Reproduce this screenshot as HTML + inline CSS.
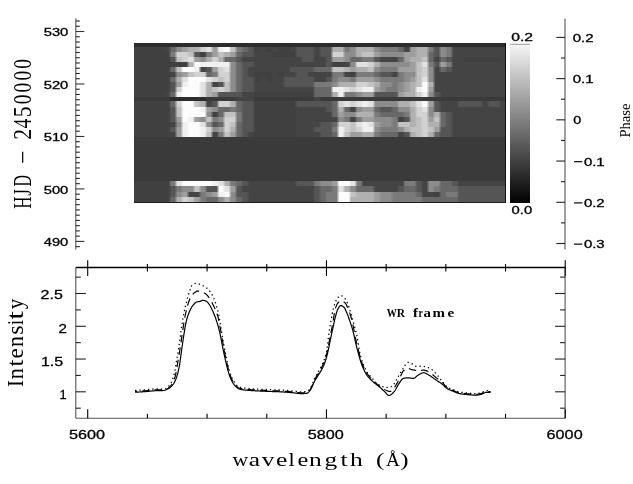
<!DOCTYPE html>
<html><head><meta charset="utf-8"><style>
html,body{margin:0;padding:0;background:#fff;}
body{width:633px;height:484px;position:relative;overflow:hidden;}
.hm{position:absolute;left:134.00px;top:0;width:371.70px;height:484px;filter:blur(0.4px);}
.hr{position:absolute;left:0;width:100%;}
svg{position:absolute;left:0;top:0;will-change:transform;}
</style></head><body>
<div class="hm">
<div class="hr" style="top:43.00px;height:4.00px;background:linear-gradient(90deg,#2c2c2c 1.5px,#2c2c2c 4.5px,#2c2c2c 7.5px,#2c2c2c 10.5px,#2c2c2c 13.5px,#2c2c2c 16.5px,#2c2c2c 19.5px,#2c2c2c 22.5px,#2c2c2c 25.5px,#2c2c2c 28.5px,#2c2c2c 31.5px,#2c2c2c 34.5px,#2c2c2c 37.5px,#2c2c2c 40.5px,#2c2c2c 43.5px,#2c2c2c 46.5px,#2c2c2c 49.5px,#2c2c2c 52.5px,#2c2c2c 55.5px,#2c2c2c 58.5px,#2c2c2c 61.5px,#2c2c2c 64.5px,#2c2c2c 67.5px,#2c2c2c 70.5px,#2c2c2c 73.5px,#2c2c2c 76.5px,#2c2c2c 79.5px,#2c2c2c 82.5px,#2c2c2c 85.5px,#2c2c2c 88.5px,#2c2c2c 91.5px,#2c2c2c 94.5px,#2c2c2c 97.5px,#2c2c2c 100.5px,#2c2c2c 103.5px,#2c2c2c 106.5px,#2c2c2c 109.5px,#2c2c2c 112.5px,#2c2c2c 115.5px,#2c2c2c 118.5px,#2c2c2c 121.5px,#2c2c2c 124.5px,#2c2c2c 127.5px,#2c2c2c 130.5px,#2c2c2c 133.5px,#2c2c2c 136.5px,#2c2c2c 139.5px,#2c2c2c 142.5px,#2c2c2c 145.5px,#2c2c2c 148.5px,#2c2c2c 151.5px,#2c2c2c 154.5px,#2c2c2c 157.5px,#2c2c2c 160.5px,#2c2c2c 163.5px,#2c2c2c 166.5px,#2c2c2c 169.5px,#2c2c2c 172.5px,#2c2c2c 175.5px,#2c2c2c 178.5px,#2c2c2c 181.5px,#2c2c2c 184.5px,#2c2c2c 187.5px,#2c2c2c 190.5px,#2c2c2c 193.5px,#2c2c2c 196.5px,#2c2c2c 199.5px,#2c2c2c 202.5px,#2c2c2c 205.5px,#2c2c2c 208.5px,#2c2c2c 211.5px,#2c2c2c 214.5px,#2c2c2c 217.5px,#2c2c2c 220.5px,#2c2c2c 223.5px,#2c2c2c 226.5px,#2c2c2c 229.5px,#2c2c2c 232.5px,#2c2c2c 235.5px,#2c2c2c 238.5px,#2c2c2c 241.5px,#2c2c2c 244.5px,#2c2c2c 247.5px,#2c2c2c 250.5px,#2c2c2c 253.5px,#2c2c2c 256.5px,#2c2c2c 259.5px,#2c2c2c 262.5px,#2c2c2c 265.5px,#2c2c2c 268.5px,#2c2c2c 271.5px,#2c2c2c 274.5px,#2c2c2c 277.5px,#2c2c2c 280.5px,#2c2c2c 283.5px,#2c2c2c 286.5px,#2c2c2c 289.5px,#2c2c2c 292.5px,#2c2c2c 295.5px,#2c2c2c 298.5px,#2c2c2c 301.5px,#2c2c2c 304.5px,#2c2c2c 307.5px,#2c2c2c 310.5px,#2c2c2c 313.5px,#2c2c2c 316.5px,#2c2c2c 319.5px,#2c2c2c 322.5px,#2c2c2c 325.5px,#2c2c2c 328.5px,#2c2c2c 331.5px,#2c2c2c 334.5px,#2c2c2c 337.5px,#2c2c2c 340.5px,#2c2c2c 343.5px,#2c2c2c 346.5px,#2c2c2c 349.5px,#2c2c2c 352.5px,#2c2c2c 355.5px,#2c2c2c 358.5px,#2c2c2c 361.5px,#2c2c2c 364.5px,#2c2c2c 367.5px,#2c2c2c 370.5px)"></div>
<div class="hr" style="top:47.00px;height:5.00px;background:linear-gradient(90deg,#404040 1.5px,#404040 4.5px,#404040 7.5px,#404040 10.5px,#404040 13.5px,#404040 16.5px,#404040 19.5px,#404040 22.5px,#404040 25.5px,#404040 28.5px,#444444 31.5px,#444444 34.5px,#686868 37.5px,#686868 40.5px,#8c8c8c 43.5px,#8c8c8c 46.5px,#9e9e9e 49.5px,#9e9e9e 52.5px,#b0b0b0 55.5px,#b0b0b0 58.5px,#b0b0b0 61.5px,#b0b0b0 64.5px,#d2d2d2 67.5px,#d2d2d2 70.5px,#e2e2e2 73.5px,#e2e2e2 76.5px,#9e9e9e 79.5px,#9e9e9e 82.5px,#f0f0f0 85.5px,#f0f0f0 88.5px,#fcfcfc 91.5px,#fcfcfc 94.5px,#c2c2c2 97.5px,#c2c2c2 100.5px,#7a7a7a 103.5px,#7a7a7a 106.5px,#686868 109.5px,#686868 112.5px,#555555 115.5px,#555555 118.5px,#404040 121.5px,#404040 124.5px,#444444 127.5px,#444444 130.5px,#404040 133.5px,#404040 136.5px,#444444 139.5px,#444444 142.5px,#404040 145.5px,#404040 148.5px,#404040 151.5px,#404040 154.5px,#444444 157.5px,#444444 160.5px,#555555 163.5px,#555555 166.5px,#555555 169.5px,#555555 172.5px,#555555 175.5px,#555555 178.5px,#444444 181.5px,#444444 184.5px,#555555 187.5px,#555555 190.5px,#555555 193.5px,#555555 196.5px,#b0b0b0 199.5px,#b0b0b0 202.5px,#b0b0b0 205.5px,#b0b0b0 208.5px,#7a7a7a 211.5px,#7a7a7a 214.5px,#8c8c8c 217.5px,#8c8c8c 220.5px,#b0b0b0 223.5px,#b0b0b0 226.5px,#b0b0b0 229.5px,#b0b0b0 232.5px,#b0b0b0 235.5px,#b0b0b0 238.5px,#8c8c8c 241.5px,#8c8c8c 244.5px,#7a7a7a 247.5px,#7a7a7a 250.5px,#7a7a7a 253.5px,#7a7a7a 256.5px,#7a7a7a 259.5px,#7a7a7a 262.5px,#686868 265.5px,#686868 268.5px,#444444 271.5px,#444444 274.5px,#9e9e9e 277.5px,#9e9e9e 280.5px,#b0b0b0 283.5px,#b0b0b0 286.5px,#b0b0b0 289.5px,#b0b0b0 292.5px,#7a7a7a 295.5px,#7a7a7a 298.5px,#555555 301.5px,#555555 304.5px,#8c8c8c 307.5px,#8c8c8c 310.5px,#7a7a7a 313.5px,#7a7a7a 316.5px,#444444 319.5px,#444444 322.5px,#444444 325.5px,#444444 328.5px,#444444 331.5px,#444444 334.5px,#444444 337.5px,#444444 340.5px,#444444 343.5px,#444444 346.5px,#444444 349.5px,#444444 352.5px,#444444 355.5px,#444444 358.5px,#444444 361.5px,#444444 364.5px,#444444 367.5px,#444444 370.5px)"></div>
<div class="hr" style="top:52.00px;height:5.00px;background:linear-gradient(90deg,#404040 1.5px,#404040 4.5px,#404040 7.5px,#404040 10.5px,#404040 13.5px,#404040 16.5px,#404040 19.5px,#404040 22.5px,#404040 25.5px,#404040 28.5px,#404040 31.5px,#404040 34.5px,#7a7a7a 37.5px,#7a7a7a 40.5px,#d2d2d2 43.5px,#d2d2d2 46.5px,#d2d2d2 49.5px,#d2d2d2 52.5px,#c2c2c2 55.5px,#c2c2c2 58.5px,#555555 61.5px,#555555 64.5px,#404040 67.5px,#404040 70.5px,#7a7a7a 73.5px,#7a7a7a 76.5px,#9e9e9e 79.5px,#9e9e9e 82.5px,#c2c2c2 85.5px,#c2c2c2 88.5px,#b0b0b0 91.5px,#b0b0b0 94.5px,#9e9e9e 97.5px,#9e9e9e 100.5px,#686868 103.5px,#686868 106.5px,#555555 109.5px,#555555 112.5px,#555555 115.5px,#555555 118.5px,#444444 121.5px,#444444 124.5px,#444444 127.5px,#444444 130.5px,#444444 133.5px,#444444 136.5px,#404040 139.5px,#404040 142.5px,#404040 145.5px,#404040 148.5px,#404040 151.5px,#404040 154.5px,#404040 157.5px,#404040 160.5px,#555555 163.5px,#555555 166.5px,#555555 169.5px,#555555 172.5px,#555555 175.5px,#555555 178.5px,#444444 181.5px,#444444 184.5px,#555555 187.5px,#555555 190.5px,#555555 193.5px,#555555 196.5px,#d2d2d2 199.5px,#d2d2d2 202.5px,#d2d2d2 205.5px,#d2d2d2 208.5px,#8c8c8c 211.5px,#8c8c8c 214.5px,#8c8c8c 217.5px,#8c8c8c 220.5px,#b0b0b0 223.5px,#b0b0b0 226.5px,#c2c2c2 229.5px,#c2c2c2 232.5px,#c2c2c2 235.5px,#c2c2c2 238.5px,#9e9e9e 241.5px,#9e9e9e 244.5px,#8c8c8c 247.5px,#8c8c8c 250.5px,#8c8c8c 253.5px,#8c8c8c 256.5px,#8c8c8c 259.5px,#8c8c8c 262.5px,#8c8c8c 265.5px,#8c8c8c 268.5px,#9e9e9e 271.5px,#9e9e9e 274.5px,#9e9e9e 277.5px,#9e9e9e 280.5px,#b0b0b0 283.5px,#b0b0b0 286.5px,#b0b0b0 289.5px,#b0b0b0 292.5px,#686868 295.5px,#686868 298.5px,#555555 301.5px,#555555 304.5px,#8c8c8c 307.5px,#8c8c8c 310.5px,#7a7a7a 313.5px,#7a7a7a 316.5px,#444444 319.5px,#444444 322.5px,#444444 325.5px,#444444 328.5px,#444444 331.5px,#444444 334.5px,#444444 337.5px,#444444 340.5px,#444444 343.5px,#444444 346.5px,#444444 349.5px,#444444 352.5px,#444444 355.5px,#444444 358.5px,#444444 361.5px,#444444 364.5px,#444444 367.5px,#444444 370.5px)"></div>
<div class="hr" style="top:57.00px;height:5.00px;background:linear-gradient(90deg,#404040 1.5px,#404040 4.5px,#404040 7.5px,#404040 10.5px,#404040 13.5px,#404040 16.5px,#404040 19.5px,#404040 22.5px,#404040 25.5px,#404040 28.5px,#404040 31.5px,#404040 34.5px,#555555 37.5px,#555555 40.5px,#c2c2c2 43.5px,#c2c2c2 46.5px,#d2d2d2 49.5px,#d2d2d2 52.5px,#e2e2e2 55.5px,#e2e2e2 58.5px,#9e9e9e 61.5px,#9e9e9e 64.5px,#8c8c8c 67.5px,#8c8c8c 70.5px,#b0b0b0 73.5px,#b0b0b0 76.5px,#d2d2d2 79.5px,#d2d2d2 82.5px,#b0b0b0 85.5px,#b0b0b0 88.5px,#686868 91.5px,#686868 94.5px,#686868 97.5px,#686868 100.5px,#555555 103.5px,#555555 106.5px,#444444 109.5px,#444444 112.5px,#444444 115.5px,#444444 118.5px,#444444 121.5px,#444444 124.5px,#444444 127.5px,#444444 130.5px,#444444 133.5px,#444444 136.5px,#444444 139.5px,#444444 142.5px,#444444 145.5px,#444444 148.5px,#444444 151.5px,#444444 154.5px,#444444 157.5px,#444444 160.5px,#444444 163.5px,#444444 166.5px,#555555 169.5px,#555555 172.5px,#555555 175.5px,#555555 178.5px,#444444 181.5px,#444444 184.5px,#444444 187.5px,#444444 190.5px,#555555 193.5px,#555555 196.5px,#9e9e9e 199.5px,#9e9e9e 202.5px,#9e9e9e 205.5px,#9e9e9e 208.5px,#8c8c8c 211.5px,#8c8c8c 214.5px,#686868 217.5px,#686868 220.5px,#686868 223.5px,#686868 226.5px,#7a7a7a 229.5px,#7a7a7a 232.5px,#7a7a7a 235.5px,#7a7a7a 238.5px,#555555 241.5px,#555555 244.5px,#444444 247.5px,#444444 250.5px,#444444 253.5px,#444444 256.5px,#444444 259.5px,#444444 262.5px,#686868 265.5px,#686868 268.5px,#9e9e9e 271.5px,#9e9e9e 274.5px,#b0b0b0 277.5px,#b0b0b0 280.5px,#b0b0b0 283.5px,#b0b0b0 286.5px,#c2c2c2 289.5px,#c2c2c2 292.5px,#686868 295.5px,#686868 298.5px,#444444 301.5px,#444444 304.5px,#686868 307.5px,#686868 310.5px,#555555 313.5px,#555555 316.5px,#444444 319.5px,#444444 322.5px,#444444 325.5px,#444444 328.5px,#404040 331.5px,#404040 334.5px,#404040 337.5px,#404040 340.5px,#404040 343.5px,#404040 346.5px,#404040 349.5px,#404040 352.5px,#404040 355.5px,#404040 358.5px,#404040 361.5px,#404040 364.5px,#444444 367.5px,#444444 370.5px)"></div>
<div class="hr" style="top:62.00px;height:5.00px;background:linear-gradient(90deg,#404040 1.5px,#404040 4.5px,#404040 7.5px,#404040 10.5px,#404040 13.5px,#404040 16.5px,#404040 19.5px,#404040 22.5px,#404040 25.5px,#404040 28.5px,#404040 31.5px,#404040 34.5px,#404040 37.5px,#404040 40.5px,#404040 43.5px,#404040 46.5px,#404040 49.5px,#404040 52.5px,#b0b0b0 55.5px,#b0b0b0 58.5px,#fcfcfc 61.5px,#fcfcfc 64.5px,#f0f0f0 67.5px,#f0f0f0 70.5px,#f0f0f0 73.5px,#f0f0f0 76.5px,#f0f0f0 79.5px,#f0f0f0 82.5px,#f0f0f0 85.5px,#f0f0f0 88.5px,#f0f0f0 91.5px,#f0f0f0 94.5px,#8c8c8c 97.5px,#8c8c8c 100.5px,#686868 103.5px,#686868 106.5px,#555555 109.5px,#555555 112.5px,#555555 115.5px,#555555 118.5px,#444444 121.5px,#444444 124.5px,#444444 127.5px,#444444 130.5px,#444444 133.5px,#444444 136.5px,#444444 139.5px,#444444 142.5px,#444444 145.5px,#444444 148.5px,#444444 151.5px,#444444 154.5px,#444444 157.5px,#444444 160.5px,#444444 163.5px,#444444 166.5px,#444444 169.5px,#444444 172.5px,#444444 175.5px,#444444 178.5px,#444444 181.5px,#444444 184.5px,#444444 187.5px,#444444 190.5px,#555555 193.5px,#555555 196.5px,#404040 199.5px,#404040 202.5px,#404040 205.5px,#404040 208.5px,#444444 211.5px,#444444 214.5px,#8c8c8c 217.5px,#8c8c8c 220.5px,#e2e2e2 223.5px,#e2e2e2 226.5px,#e2e2e2 229.5px,#e2e2e2 232.5px,#d2d2d2 235.5px,#d2d2d2 238.5px,#b0b0b0 241.5px,#b0b0b0 244.5px,#8c8c8c 247.5px,#8c8c8c 250.5px,#8c8c8c 253.5px,#8c8c8c 256.5px,#8c8c8c 259.5px,#8c8c8c 262.5px,#8c8c8c 265.5px,#8c8c8c 268.5px,#8c8c8c 271.5px,#8c8c8c 274.5px,#9e9e9e 277.5px,#9e9e9e 280.5px,#c2c2c2 283.5px,#c2c2c2 286.5px,#e2e2e2 289.5px,#e2e2e2 292.5px,#7a7a7a 295.5px,#7a7a7a 298.5px,#555555 301.5px,#555555 304.5px,#9e9e9e 307.5px,#9e9e9e 310.5px,#7a7a7a 313.5px,#7a7a7a 316.5px,#444444 319.5px,#444444 322.5px,#444444 325.5px,#444444 328.5px,#444444 331.5px,#444444 334.5px,#444444 337.5px,#444444 340.5px,#444444 343.5px,#444444 346.5px,#444444 349.5px,#444444 352.5px,#444444 355.5px,#444444 358.5px,#444444 361.5px,#444444 364.5px,#444444 367.5px,#444444 370.5px)"></div>
<div class="hr" style="top:67.00px;height:5.00px;background:linear-gradient(90deg,#404040 1.5px,#404040 4.5px,#404040 7.5px,#404040 10.5px,#404040 13.5px,#404040 16.5px,#404040 19.5px,#404040 22.5px,#404040 25.5px,#404040 28.5px,#404040 31.5px,#404040 34.5px,#686868 37.5px,#686868 40.5px,#c2c2c2 43.5px,#c2c2c2 46.5px,#fcfcfc 49.5px,#fcfcfc 52.5px,#fcfcfc 55.5px,#fcfcfc 58.5px,#f0f0f0 61.5px,#f0f0f0 64.5px,#444444 67.5px,#444444 70.5px,#555555 73.5px,#555555 76.5px,#9e9e9e 79.5px,#9e9e9e 82.5px,#d2d2d2 85.5px,#d2d2d2 88.5px,#e2e2e2 91.5px,#e2e2e2 94.5px,#8c8c8c 97.5px,#8c8c8c 100.5px,#686868 103.5px,#686868 106.5px,#555555 109.5px,#555555 112.5px,#444444 115.5px,#444444 118.5px,#444444 121.5px,#444444 124.5px,#444444 127.5px,#444444 130.5px,#444444 133.5px,#444444 136.5px,#444444 139.5px,#444444 142.5px,#444444 145.5px,#444444 148.5px,#444444 151.5px,#444444 154.5px,#555555 157.5px,#555555 160.5px,#555555 163.5px,#555555 166.5px,#555555 169.5px,#555555 172.5px,#555555 175.5px,#555555 178.5px,#686868 181.5px,#686868 184.5px,#686868 187.5px,#686868 190.5px,#686868 193.5px,#686868 196.5px,#c2c2c2 199.5px,#c2c2c2 202.5px,#c2c2c2 205.5px,#c2c2c2 208.5px,#b0b0b0 211.5px,#b0b0b0 214.5px,#9e9e9e 217.5px,#9e9e9e 220.5px,#b0b0b0 223.5px,#b0b0b0 226.5px,#b0b0b0 229.5px,#b0b0b0 232.5px,#c2c2c2 235.5px,#c2c2c2 238.5px,#8c8c8c 241.5px,#8c8c8c 244.5px,#7a7a7a 247.5px,#7a7a7a 250.5px,#7a7a7a 253.5px,#7a7a7a 256.5px,#7a7a7a 259.5px,#7a7a7a 262.5px,#9e9e9e 265.5px,#9e9e9e 268.5px,#9e9e9e 271.5px,#9e9e9e 274.5px,#9e9e9e 277.5px,#9e9e9e 280.5px,#c2c2c2 283.5px,#c2c2c2 286.5px,#d2d2d2 289.5px,#d2d2d2 292.5px,#8c8c8c 295.5px,#8c8c8c 298.5px,#444444 301.5px,#444444 304.5px,#686868 307.5px,#686868 310.5px,#555555 313.5px,#555555 316.5px,#444444 319.5px,#444444 322.5px,#444444 325.5px,#444444 328.5px,#444444 331.5px,#444444 334.5px,#444444 337.5px,#444444 340.5px,#444444 343.5px,#444444 346.5px,#444444 349.5px,#444444 352.5px,#444444 355.5px,#444444 358.5px,#444444 361.5px,#444444 364.5px,#444444 367.5px,#444444 370.5px)"></div>
<div class="hr" style="top:72.00px;height:5.00px;background:linear-gradient(90deg,#404040 1.5px,#404040 4.5px,#404040 7.5px,#404040 10.5px,#404040 13.5px,#404040 16.5px,#404040 19.5px,#404040 22.5px,#404040 25.5px,#404040 28.5px,#404040 31.5px,#404040 34.5px,#444444 37.5px,#444444 40.5px,#8c8c8c 43.5px,#8c8c8c 46.5px,#9e9e9e 49.5px,#9e9e9e 52.5px,#c2c2c2 55.5px,#c2c2c2 58.5px,#d2d2d2 61.5px,#d2d2d2 64.5px,#d2d2d2 67.5px,#d2d2d2 70.5px,#686868 73.5px,#686868 76.5px,#7a7a7a 79.5px,#7a7a7a 82.5px,#d2d2d2 85.5px,#d2d2d2 88.5px,#d2d2d2 91.5px,#d2d2d2 94.5px,#8c8c8c 97.5px,#8c8c8c 100.5px,#686868 103.5px,#686868 106.5px,#555555 109.5px,#555555 112.5px,#444444 115.5px,#444444 118.5px,#404040 121.5px,#404040 124.5px,#404040 127.5px,#404040 130.5px,#404040 133.5px,#404040 136.5px,#444444 139.5px,#444444 142.5px,#404040 145.5px,#404040 148.5px,#444444 151.5px,#444444 154.5px,#444444 157.5px,#444444 160.5px,#555555 163.5px,#555555 166.5px,#555555 169.5px,#555555 172.5px,#444444 175.5px,#444444 178.5px,#444444 181.5px,#444444 184.5px,#444444 187.5px,#444444 190.5px,#444444 193.5px,#444444 196.5px,#7a7a7a 199.5px,#7a7a7a 202.5px,#7a7a7a 205.5px,#7a7a7a 208.5px,#444444 211.5px,#444444 214.5px,#404040 217.5px,#404040 220.5px,#7a7a7a 223.5px,#7a7a7a 226.5px,#7a7a7a 229.5px,#7a7a7a 232.5px,#7a7a7a 235.5px,#7a7a7a 238.5px,#686868 241.5px,#686868 244.5px,#555555 247.5px,#555555 250.5px,#555555 253.5px,#555555 256.5px,#444444 259.5px,#444444 262.5px,#7a7a7a 265.5px,#7a7a7a 268.5px,#8c8c8c 271.5px,#8c8c8c 274.5px,#8c8c8c 277.5px,#8c8c8c 280.5px,#c2c2c2 283.5px,#c2c2c2 286.5px,#d2d2d2 289.5px,#d2d2d2 292.5px,#8c8c8c 295.5px,#8c8c8c 298.5px,#444444 301.5px,#444444 304.5px,#444444 307.5px,#444444 310.5px,#444444 313.5px,#444444 316.5px,#444444 319.5px,#444444 322.5px,#444444 325.5px,#444444 328.5px,#444444 331.5px,#444444 334.5px,#444444 337.5px,#444444 340.5px,#444444 343.5px,#444444 346.5px,#444444 349.5px,#444444 352.5px,#444444 355.5px,#444444 358.5px,#444444 361.5px,#444444 364.5px,#444444 367.5px,#444444 370.5px)"></div>
<div class="hr" style="top:77.00px;height:4.50px;background:linear-gradient(90deg,#404040 1.5px,#404040 4.5px,#404040 7.5px,#404040 10.5px,#404040 13.5px,#404040 16.5px,#404040 19.5px,#404040 22.5px,#404040 25.5px,#404040 28.5px,#404040 31.5px,#404040 34.5px,#686868 37.5px,#686868 40.5px,#b0b0b0 43.5px,#b0b0b0 46.5px,#e2e2e2 49.5px,#e2e2e2 52.5px,#fcfcfc 55.5px,#fcfcfc 58.5px,#fcfcfc 61.5px,#fcfcfc 64.5px,#fcfcfc 67.5px,#fcfcfc 70.5px,#e2e2e2 73.5px,#e2e2e2 76.5px,#d2d2d2 79.5px,#d2d2d2 82.5px,#c2c2c2 85.5px,#c2c2c2 88.5px,#d2d2d2 91.5px,#d2d2d2 94.5px,#8c8c8c 97.5px,#8c8c8c 100.5px,#686868 103.5px,#686868 106.5px,#555555 109.5px,#555555 112.5px,#555555 115.5px,#555555 118.5px,#404040 121.5px,#404040 124.5px,#444444 127.5px,#444444 130.5px,#404040 133.5px,#404040 136.5px,#444444 139.5px,#444444 142.5px,#444444 145.5px,#444444 148.5px,#555555 151.5px,#555555 154.5px,#555555 157.5px,#555555 160.5px,#555555 163.5px,#555555 166.5px,#555555 169.5px,#555555 172.5px,#555555 175.5px,#555555 178.5px,#444444 181.5px,#444444 184.5px,#444444 187.5px,#444444 190.5px,#555555 193.5px,#555555 196.5px,#7a7a7a 199.5px,#7a7a7a 202.5px,#8c8c8c 205.5px,#8c8c8c 208.5px,#8c8c8c 211.5px,#8c8c8c 214.5px,#7a7a7a 217.5px,#7a7a7a 220.5px,#9e9e9e 223.5px,#9e9e9e 226.5px,#9e9e9e 229.5px,#9e9e9e 232.5px,#9e9e9e 235.5px,#9e9e9e 238.5px,#8c8c8c 241.5px,#8c8c8c 244.5px,#7a7a7a 247.5px,#7a7a7a 250.5px,#7a7a7a 253.5px,#7a7a7a 256.5px,#7a7a7a 259.5px,#7a7a7a 262.5px,#7a7a7a 265.5px,#7a7a7a 268.5px,#8c8c8c 271.5px,#8c8c8c 274.5px,#9e9e9e 277.5px,#9e9e9e 280.5px,#c2c2c2 283.5px,#c2c2c2 286.5px,#e2e2e2 289.5px,#e2e2e2 292.5px,#8c8c8c 295.5px,#8c8c8c 298.5px,#444444 301.5px,#444444 304.5px,#444444 307.5px,#444444 310.5px,#444444 313.5px,#444444 316.5px,#444444 319.5px,#444444 322.5px,#444444 325.5px,#444444 328.5px,#444444 331.5px,#444444 334.5px,#444444 337.5px,#444444 340.5px,#444444 343.5px,#444444 346.5px,#444444 349.5px,#444444 352.5px,#444444 355.5px,#444444 358.5px,#444444 361.5px,#444444 364.5px,#444444 367.5px,#444444 370.5px)"></div>
<div class="hr" style="top:81.50px;height:5.00px;background:linear-gradient(90deg,#404040 1.5px,#404040 4.5px,#404040 7.5px,#404040 10.5px,#404040 13.5px,#404040 16.5px,#404040 19.5px,#404040 22.5px,#404040 25.5px,#404040 28.5px,#404040 31.5px,#404040 34.5px,#555555 37.5px,#555555 40.5px,#9e9e9e 43.5px,#9e9e9e 46.5px,#f0f0f0 49.5px,#f0f0f0 52.5px,#fcfcfc 55.5px,#fcfcfc 58.5px,#fcfcfc 61.5px,#fcfcfc 64.5px,#e2e2e2 67.5px,#e2e2e2 70.5px,#b0b0b0 73.5px,#b0b0b0 76.5px,#444444 79.5px,#444444 82.5px,#555555 85.5px,#555555 88.5px,#c2c2c2 91.5px,#c2c2c2 94.5px,#8c8c8c 97.5px,#8c8c8c 100.5px,#686868 103.5px,#686868 106.5px,#555555 109.5px,#555555 112.5px,#555555 115.5px,#555555 118.5px,#444444 121.5px,#444444 124.5px,#444444 127.5px,#444444 130.5px,#444444 133.5px,#444444 136.5px,#444444 139.5px,#444444 142.5px,#444444 145.5px,#444444 148.5px,#555555 151.5px,#555555 154.5px,#555555 157.5px,#555555 160.5px,#555555 163.5px,#555555 166.5px,#555555 169.5px,#555555 172.5px,#555555 175.5px,#555555 178.5px,#7a7a7a 181.5px,#7a7a7a 184.5px,#7a7a7a 187.5px,#7a7a7a 190.5px,#7a7a7a 193.5px,#7a7a7a 196.5px,#8c8c8c 199.5px,#8c8c8c 202.5px,#b0b0b0 205.5px,#b0b0b0 208.5px,#b0b0b0 211.5px,#b0b0b0 214.5px,#b0b0b0 217.5px,#b0b0b0 220.5px,#d2d2d2 223.5px,#d2d2d2 226.5px,#d2d2d2 229.5px,#d2d2d2 232.5px,#c2c2c2 235.5px,#c2c2c2 238.5px,#b0b0b0 241.5px,#b0b0b0 244.5px,#8c8c8c 247.5px,#8c8c8c 250.5px,#8c8c8c 253.5px,#8c8c8c 256.5px,#7a7a7a 259.5px,#7a7a7a 262.5px,#8c8c8c 265.5px,#8c8c8c 268.5px,#9e9e9e 271.5px,#9e9e9e 274.5px,#b0b0b0 277.5px,#b0b0b0 280.5px,#c2c2c2 283.5px,#c2c2c2 286.5px,#fcfcfc 289.5px,#fcfcfc 292.5px,#b0b0b0 295.5px,#b0b0b0 298.5px,#444444 301.5px,#444444 304.5px,#444444 307.5px,#444444 310.5px,#444444 313.5px,#444444 316.5px,#444444 319.5px,#444444 322.5px,#444444 325.5px,#444444 328.5px,#444444 331.5px,#444444 334.5px,#444444 337.5px,#444444 340.5px,#444444 343.5px,#444444 346.5px,#444444 349.5px,#444444 352.5px,#444444 355.5px,#444444 358.5px,#444444 361.5px,#444444 364.5px,#444444 367.5px,#444444 370.5px)"></div>
<div class="hr" style="top:86.50px;height:5.00px;background:linear-gradient(90deg,#404040 1.5px,#404040 4.5px,#404040 7.5px,#404040 10.5px,#404040 13.5px,#404040 16.5px,#404040 19.5px,#404040 22.5px,#404040 25.5px,#404040 28.5px,#404040 31.5px,#404040 34.5px,#555555 37.5px,#555555 40.5px,#d2d2d2 43.5px,#d2d2d2 46.5px,#fcfcfc 49.5px,#fcfcfc 52.5px,#fcfcfc 55.5px,#fcfcfc 58.5px,#fcfcfc 61.5px,#fcfcfc 64.5px,#e2e2e2 67.5px,#e2e2e2 70.5px,#b0b0b0 73.5px,#b0b0b0 76.5px,#c2c2c2 79.5px,#c2c2c2 82.5px,#d2d2d2 85.5px,#d2d2d2 88.5px,#c2c2c2 91.5px,#c2c2c2 94.5px,#8c8c8c 97.5px,#8c8c8c 100.5px,#686868 103.5px,#686868 106.5px,#555555 109.5px,#555555 112.5px,#555555 115.5px,#555555 118.5px,#444444 121.5px,#444444 124.5px,#444444 127.5px,#444444 130.5px,#444444 133.5px,#444444 136.5px,#444444 139.5px,#444444 142.5px,#444444 145.5px,#444444 148.5px,#444444 151.5px,#444444 154.5px,#444444 157.5px,#444444 160.5px,#444444 163.5px,#444444 166.5px,#444444 169.5px,#444444 172.5px,#444444 175.5px,#444444 178.5px,#686868 181.5px,#686868 184.5px,#686868 187.5px,#686868 190.5px,#686868 193.5px,#686868 196.5px,#f0f0f0 199.5px,#f0f0f0 202.5px,#f0f0f0 205.5px,#f0f0f0 208.5px,#e2e2e2 211.5px,#e2e2e2 214.5px,#d2d2d2 217.5px,#d2d2d2 220.5px,#e2e2e2 223.5px,#e2e2e2 226.5px,#f0f0f0 229.5px,#f0f0f0 232.5px,#f0f0f0 235.5px,#f0f0f0 238.5px,#9e9e9e 241.5px,#9e9e9e 244.5px,#8c8c8c 247.5px,#8c8c8c 250.5px,#7a7a7a 253.5px,#7a7a7a 256.5px,#7a7a7a 259.5px,#7a7a7a 262.5px,#8c8c8c 265.5px,#8c8c8c 268.5px,#9e9e9e 271.5px,#9e9e9e 274.5px,#b0b0b0 277.5px,#b0b0b0 280.5px,#f0f0f0 283.5px,#f0f0f0 286.5px,#fcfcfc 289.5px,#fcfcfc 292.5px,#9e9e9e 295.5px,#9e9e9e 298.5px,#444444 301.5px,#444444 304.5px,#444444 307.5px,#444444 310.5px,#444444 313.5px,#444444 316.5px,#444444 319.5px,#444444 322.5px,#444444 325.5px,#444444 328.5px,#444444 331.5px,#444444 334.5px,#444444 337.5px,#444444 340.5px,#444444 343.5px,#444444 346.5px,#444444 349.5px,#444444 352.5px,#444444 355.5px,#444444 358.5px,#444444 361.5px,#444444 364.5px,#444444 367.5px,#444444 370.5px)"></div>
<div class="hr" style="top:91.50px;height:5.00px;background:linear-gradient(90deg,#404040 1.5px,#404040 4.5px,#404040 7.5px,#404040 10.5px,#404040 13.5px,#404040 16.5px,#404040 19.5px,#404040 22.5px,#404040 25.5px,#404040 28.5px,#444444 31.5px,#444444 34.5px,#686868 37.5px,#686868 40.5px,#f0f0f0 43.5px,#f0f0f0 46.5px,#fcfcfc 49.5px,#fcfcfc 52.5px,#fcfcfc 55.5px,#fcfcfc 58.5px,#fcfcfc 61.5px,#fcfcfc 64.5px,#e2e2e2 67.5px,#e2e2e2 70.5px,#b0b0b0 73.5px,#b0b0b0 76.5px,#9e9e9e 79.5px,#9e9e9e 82.5px,#555555 85.5px,#555555 88.5px,#555555 91.5px,#555555 94.5px,#555555 97.5px,#555555 100.5px,#555555 103.5px,#555555 106.5px,#444444 109.5px,#444444 112.5px,#444444 115.5px,#444444 118.5px,#404040 121.5px,#404040 124.5px,#404040 127.5px,#404040 130.5px,#404040 133.5px,#404040 136.5px,#404040 139.5px,#404040 142.5px,#404040 145.5px,#404040 148.5px,#404040 151.5px,#404040 154.5px,#404040 157.5px,#404040 160.5px,#404040 163.5px,#404040 166.5px,#404040 169.5px,#404040 172.5px,#404040 175.5px,#404040 178.5px,#686868 181.5px,#686868 184.5px,#686868 187.5px,#686868 190.5px,#686868 193.5px,#686868 196.5px,#b0b0b0 199.5px,#b0b0b0 202.5px,#f0f0f0 205.5px,#f0f0f0 208.5px,#7a7a7a 211.5px,#7a7a7a 214.5px,#7a7a7a 217.5px,#7a7a7a 220.5px,#8c8c8c 223.5px,#8c8c8c 226.5px,#9e9e9e 229.5px,#9e9e9e 232.5px,#9e9e9e 235.5px,#9e9e9e 238.5px,#555555 241.5px,#555555 244.5px,#555555 247.5px,#555555 250.5px,#555555 253.5px,#555555 256.5px,#555555 259.5px,#555555 262.5px,#9e9e9e 265.5px,#9e9e9e 268.5px,#b0b0b0 271.5px,#b0b0b0 274.5px,#b0b0b0 277.5px,#b0b0b0 280.5px,#d2d2d2 283.5px,#d2d2d2 286.5px,#f0f0f0 289.5px,#f0f0f0 292.5px,#8c8c8c 295.5px,#8c8c8c 298.5px,#555555 301.5px,#555555 304.5px,#444444 307.5px,#444444 310.5px,#444444 313.5px,#444444 316.5px,#444444 319.5px,#444444 322.5px,#444444 325.5px,#444444 328.5px,#444444 331.5px,#444444 334.5px,#444444 337.5px,#444444 340.5px,#444444 343.5px,#444444 346.5px,#444444 349.5px,#444444 352.5px,#444444 355.5px,#444444 358.5px,#444444 361.5px,#444444 364.5px,#444444 367.5px,#444444 370.5px)"></div>
<div class="hr" style="top:96.50px;height:4.50px;background:linear-gradient(90deg,#3a3a3a 1.5px,#3a3a3a 4.5px,#3a3a3a 7.5px,#3a3a3a 10.5px,#3a3a3a 13.5px,#3a3a3a 16.5px,#3a3a3a 19.5px,#3a3a3a 22.5px,#3a3a3a 25.5px,#3a3a3a 28.5px,#3a3a3a 31.5px,#3a3a3a 34.5px,#2c2c2c 37.5px,#2c2c2c 40.5px,#2c2c2c 43.5px,#2c2c2c 46.5px,#2c2c2c 49.5px,#2c2c2c 52.5px,#2c2c2c 55.5px,#2c2c2c 58.5px,#2c2c2c 61.5px,#2c2c2c 64.5px,#2c2c2c 67.5px,#2c2c2c 70.5px,#3a3a3a 73.5px,#3a3a3a 76.5px,#3a3a3a 79.5px,#3a3a3a 82.5px,#3a3a3a 85.5px,#3a3a3a 88.5px,#3a3a3a 91.5px,#3a3a3a 94.5px,#3a3a3a 97.5px,#3a3a3a 100.5px,#444444 103.5px,#444444 106.5px,#444444 109.5px,#444444 112.5px,#444444 115.5px,#444444 118.5px,#3a3a3a 121.5px,#3a3a3a 124.5px,#3a3a3a 127.5px,#3a3a3a 130.5px,#3a3a3a 133.5px,#3a3a3a 136.5px,#3a3a3a 139.5px,#3a3a3a 142.5px,#3a3a3a 145.5px,#3a3a3a 148.5px,#3a3a3a 151.5px,#3a3a3a 154.5px,#3a3a3a 157.5px,#3a3a3a 160.5px,#3a3a3a 163.5px,#3a3a3a 166.5px,#3a3a3a 169.5px,#3a3a3a 172.5px,#3a3a3a 175.5px,#3a3a3a 178.5px,#444444 181.5px,#444444 184.5px,#3a3a3a 187.5px,#3a3a3a 190.5px,#3a3a3a 193.5px,#3a3a3a 196.5px,#3a3a3a 199.5px,#3a3a3a 202.5px,#3a3a3a 205.5px,#3a3a3a 208.5px,#3a3a3a 211.5px,#3a3a3a 214.5px,#3a3a3a 217.5px,#3a3a3a 220.5px,#3a3a3a 223.5px,#3a3a3a 226.5px,#3a3a3a 229.5px,#3a3a3a 232.5px,#3a3a3a 235.5px,#3a3a3a 238.5px,#3a3a3a 241.5px,#3a3a3a 244.5px,#3a3a3a 247.5px,#3a3a3a 250.5px,#3a3a3a 253.5px,#3a3a3a 256.5px,#3a3a3a 259.5px,#3a3a3a 262.5px,#3a3a3a 265.5px,#3a3a3a 268.5px,#3a3a3a 271.5px,#3a3a3a 274.5px,#3a3a3a 277.5px,#3a3a3a 280.5px,#3a3a3a 283.5px,#3a3a3a 286.5px,#3a3a3a 289.5px,#3a3a3a 292.5px,#3a3a3a 295.5px,#3a3a3a 298.5px,#3a3a3a 301.5px,#3a3a3a 304.5px,#3a3a3a 307.5px,#3a3a3a 310.5px,#3a3a3a 313.5px,#3a3a3a 316.5px,#3a3a3a 319.5px,#3a3a3a 322.5px,#3a3a3a 325.5px,#3a3a3a 328.5px,#3a3a3a 331.5px,#3a3a3a 334.5px,#3a3a3a 337.5px,#3a3a3a 340.5px,#3a3a3a 343.5px,#3a3a3a 346.5px,#3a3a3a 349.5px,#3a3a3a 352.5px,#3a3a3a 355.5px,#3a3a3a 358.5px,#3a3a3a 361.5px,#3a3a3a 364.5px,#3a3a3a 367.5px,#3a3a3a 370.5px)"></div>
<div class="hr" style="top:101.00px;height:6.00px;background:linear-gradient(90deg,#404040 1.5px,#404040 4.5px,#404040 7.5px,#404040 10.5px,#404040 13.5px,#404040 16.5px,#404040 19.5px,#404040 22.5px,#404040 25.5px,#404040 28.5px,#404040 31.5px,#404040 34.5px,#686868 37.5px,#686868 40.5px,#d2d2d2 43.5px,#d2d2d2 46.5px,#fcfcfc 49.5px,#fcfcfc 52.5px,#fcfcfc 55.5px,#fcfcfc 58.5px,#c2c2c2 61.5px,#c2c2c2 64.5px,#b0b0b0 67.5px,#b0b0b0 70.5px,#444444 73.5px,#444444 76.5px,#555555 79.5px,#555555 82.5px,#d2d2d2 85.5px,#d2d2d2 88.5px,#d2d2d2 91.5px,#d2d2d2 94.5px,#b0b0b0 97.5px,#b0b0b0 100.5px,#686868 103.5px,#686868 106.5px,#555555 109.5px,#555555 112.5px,#555555 115.5px,#555555 118.5px,#404040 121.5px,#404040 124.5px,#404040 127.5px,#404040 130.5px,#404040 133.5px,#404040 136.5px,#404040 139.5px,#404040 142.5px,#404040 145.5px,#404040 148.5px,#404040 151.5px,#404040 154.5px,#404040 157.5px,#404040 160.5px,#555555 163.5px,#555555 166.5px,#555555 169.5px,#555555 172.5px,#555555 175.5px,#555555 178.5px,#555555 181.5px,#555555 184.5px,#555555 187.5px,#555555 190.5px,#555555 193.5px,#555555 196.5px,#686868 199.5px,#686868 202.5px,#d2d2d2 205.5px,#d2d2d2 208.5px,#e2e2e2 211.5px,#e2e2e2 214.5px,#d2d2d2 217.5px,#d2d2d2 220.5px,#e2e2e2 223.5px,#e2e2e2 226.5px,#f0f0f0 229.5px,#f0f0f0 232.5px,#e2e2e2 235.5px,#e2e2e2 238.5px,#8c8c8c 241.5px,#8c8c8c 244.5px,#8c8c8c 247.5px,#8c8c8c 250.5px,#8c8c8c 253.5px,#8c8c8c 256.5px,#8c8c8c 259.5px,#8c8c8c 262.5px,#b0b0b0 265.5px,#b0b0b0 268.5px,#b0b0b0 271.5px,#b0b0b0 274.5px,#c2c2c2 277.5px,#c2c2c2 280.5px,#e2e2e2 283.5px,#e2e2e2 286.5px,#fcfcfc 289.5px,#fcfcfc 292.5px,#9e9e9e 295.5px,#9e9e9e 298.5px,#555555 301.5px,#555555 304.5px,#444444 307.5px,#444444 310.5px,#444444 313.5px,#444444 316.5px,#444444 319.5px,#444444 322.5px,#555555 325.5px,#555555 328.5px,#555555 331.5px,#555555 334.5px,#555555 337.5px,#555555 340.5px,#555555 343.5px,#555555 346.5px,#444444 349.5px,#444444 352.5px,#555555 355.5px,#555555 358.5px,#555555 361.5px,#555555 364.5px,#444444 367.5px,#444444 370.5px)"></div>
<div class="hr" style="top:107.00px;height:5.00px;background:linear-gradient(90deg,#404040 1.5px,#404040 4.5px,#404040 7.5px,#404040 10.5px,#404040 13.5px,#404040 16.5px,#404040 19.5px,#404040 22.5px,#404040 25.5px,#404040 28.5px,#404040 31.5px,#404040 34.5px,#555555 37.5px,#555555 40.5px,#c2c2c2 43.5px,#c2c2c2 46.5px,#fcfcfc 49.5px,#fcfcfc 52.5px,#fcfcfc 55.5px,#fcfcfc 58.5px,#fcfcfc 61.5px,#fcfcfc 64.5px,#f0f0f0 67.5px,#f0f0f0 70.5px,#9e9e9e 73.5px,#9e9e9e 76.5px,#8c8c8c 79.5px,#8c8c8c 82.5px,#686868 85.5px,#686868 88.5px,#686868 91.5px,#686868 94.5px,#7a7a7a 97.5px,#7a7a7a 100.5px,#686868 103.5px,#686868 106.5px,#555555 109.5px,#555555 112.5px,#555555 115.5px,#555555 118.5px,#404040 121.5px,#404040 124.5px,#404040 127.5px,#404040 130.5px,#404040 133.5px,#404040 136.5px,#404040 139.5px,#404040 142.5px,#404040 145.5px,#404040 148.5px,#404040 151.5px,#404040 154.5px,#404040 157.5px,#404040 160.5px,#444444 163.5px,#444444 166.5px,#444444 169.5px,#444444 172.5px,#444444 175.5px,#444444 178.5px,#444444 181.5px,#444444 184.5px,#444444 187.5px,#444444 190.5px,#555555 193.5px,#555555 196.5px,#686868 199.5px,#686868 202.5px,#b0b0b0 205.5px,#b0b0b0 208.5px,#686868 211.5px,#686868 214.5px,#444444 217.5px,#444444 220.5px,#8c8c8c 223.5px,#8c8c8c 226.5px,#9e9e9e 229.5px,#9e9e9e 232.5px,#9e9e9e 235.5px,#9e9e9e 238.5px,#686868 241.5px,#686868 244.5px,#555555 247.5px,#555555 250.5px,#555555 253.5px,#555555 256.5px,#686868 259.5px,#686868 262.5px,#8c8c8c 265.5px,#8c8c8c 268.5px,#8c8c8c 271.5px,#8c8c8c 274.5px,#b0b0b0 277.5px,#b0b0b0 280.5px,#d2d2d2 283.5px,#d2d2d2 286.5px,#e2e2e2 289.5px,#e2e2e2 292.5px,#8c8c8c 295.5px,#8c8c8c 298.5px,#555555 301.5px,#555555 304.5px,#444444 307.5px,#444444 310.5px,#444444 313.5px,#444444 316.5px,#444444 319.5px,#444444 322.5px,#444444 325.5px,#444444 328.5px,#444444 331.5px,#444444 334.5px,#444444 337.5px,#444444 340.5px,#444444 343.5px,#444444 346.5px,#444444 349.5px,#444444 352.5px,#444444 355.5px,#444444 358.5px,#444444 361.5px,#444444 364.5px,#444444 367.5px,#444444 370.5px)"></div>
<div class="hr" style="top:112.00px;height:5.00px;background:linear-gradient(90deg,#404040 1.5px,#404040 4.5px,#404040 7.5px,#404040 10.5px,#404040 13.5px,#404040 16.5px,#404040 19.5px,#404040 22.5px,#404040 25.5px,#404040 28.5px,#404040 31.5px,#404040 34.5px,#555555 37.5px,#555555 40.5px,#c2c2c2 43.5px,#c2c2c2 46.5px,#fcfcfc 49.5px,#fcfcfc 52.5px,#fcfcfc 55.5px,#fcfcfc 58.5px,#fcfcfc 61.5px,#fcfcfc 64.5px,#fcfcfc 67.5px,#fcfcfc 70.5px,#8c8c8c 73.5px,#8c8c8c 76.5px,#404040 79.5px,#404040 82.5px,#686868 85.5px,#686868 88.5px,#c2c2c2 91.5px,#c2c2c2 94.5px,#c2c2c2 97.5px,#c2c2c2 100.5px,#7a7a7a 103.5px,#7a7a7a 106.5px,#555555 109.5px,#555555 112.5px,#555555 115.5px,#555555 118.5px,#404040 121.5px,#404040 124.5px,#404040 127.5px,#404040 130.5px,#404040 133.5px,#404040 136.5px,#404040 139.5px,#404040 142.5px,#404040 145.5px,#404040 148.5px,#404040 151.5px,#404040 154.5px,#404040 157.5px,#404040 160.5px,#444444 163.5px,#444444 166.5px,#444444 169.5px,#444444 172.5px,#444444 175.5px,#444444 178.5px,#444444 181.5px,#444444 184.5px,#444444 187.5px,#444444 190.5px,#444444 193.5px,#444444 196.5px,#686868 199.5px,#686868 202.5px,#9e9e9e 205.5px,#9e9e9e 208.5px,#8c8c8c 211.5px,#8c8c8c 214.5px,#8c8c8c 217.5px,#8c8c8c 220.5px,#b0b0b0 223.5px,#b0b0b0 226.5px,#b0b0b0 229.5px,#b0b0b0 232.5px,#b0b0b0 235.5px,#b0b0b0 238.5px,#7a7a7a 241.5px,#7a7a7a 244.5px,#686868 247.5px,#686868 250.5px,#686868 253.5px,#686868 256.5px,#686868 259.5px,#686868 262.5px,#686868 265.5px,#686868 268.5px,#7a7a7a 271.5px,#7a7a7a 274.5px,#b0b0b0 277.5px,#b0b0b0 280.5px,#d2d2d2 283.5px,#d2d2d2 286.5px,#d2d2d2 289.5px,#d2d2d2 292.5px,#8c8c8c 295.5px,#8c8c8c 298.5px,#b0b0b0 301.5px,#b0b0b0 304.5px,#686868 307.5px,#686868 310.5px,#555555 313.5px,#555555 316.5px,#444444 319.5px,#444444 322.5px,#444444 325.5px,#444444 328.5px,#444444 331.5px,#444444 334.5px,#444444 337.5px,#444444 340.5px,#444444 343.5px,#444444 346.5px,#444444 349.5px,#444444 352.5px,#444444 355.5px,#444444 358.5px,#444444 361.5px,#444444 364.5px,#444444 367.5px,#444444 370.5px)"></div>
<div class="hr" style="top:117.00px;height:5.00px;background:linear-gradient(90deg,#404040 1.5px,#404040 4.5px,#404040 7.5px,#404040 10.5px,#404040 13.5px,#404040 16.5px,#404040 19.5px,#404040 22.5px,#404040 25.5px,#404040 28.5px,#404040 31.5px,#404040 34.5px,#555555 37.5px,#555555 40.5px,#9e9e9e 43.5px,#9e9e9e 46.5px,#fcfcfc 49.5px,#fcfcfc 52.5px,#f0f0f0 55.5px,#f0f0f0 58.5px,#9e9e9e 61.5px,#9e9e9e 64.5px,#8c8c8c 67.5px,#8c8c8c 70.5px,#c2c2c2 73.5px,#c2c2c2 76.5px,#7a7a7a 79.5px,#7a7a7a 82.5px,#8c8c8c 85.5px,#8c8c8c 88.5px,#d2d2d2 91.5px,#d2d2d2 94.5px,#d2d2d2 97.5px,#d2d2d2 100.5px,#7a7a7a 103.5px,#7a7a7a 106.5px,#555555 109.5px,#555555 112.5px,#555555 115.5px,#555555 118.5px,#404040 121.5px,#404040 124.5px,#404040 127.5px,#404040 130.5px,#404040 133.5px,#404040 136.5px,#404040 139.5px,#404040 142.5px,#404040 145.5px,#404040 148.5px,#404040 151.5px,#404040 154.5px,#404040 157.5px,#404040 160.5px,#444444 163.5px,#444444 166.5px,#444444 169.5px,#444444 172.5px,#444444 175.5px,#444444 178.5px,#444444 181.5px,#444444 184.5px,#444444 187.5px,#444444 190.5px,#444444 193.5px,#444444 196.5px,#444444 199.5px,#444444 202.5px,#8c8c8c 205.5px,#8c8c8c 208.5px,#7a7a7a 211.5px,#7a7a7a 214.5px,#444444 217.5px,#444444 220.5px,#7a7a7a 223.5px,#7a7a7a 226.5px,#9e9e9e 229.5px,#9e9e9e 232.5px,#9e9e9e 235.5px,#9e9e9e 238.5px,#8c8c8c 241.5px,#8c8c8c 244.5px,#8c8c8c 247.5px,#8c8c8c 250.5px,#8c8c8c 253.5px,#8c8c8c 256.5px,#7a7a7a 259.5px,#7a7a7a 262.5px,#404040 265.5px,#404040 268.5px,#555555 271.5px,#555555 274.5px,#b0b0b0 277.5px,#b0b0b0 280.5px,#c2c2c2 283.5px,#c2c2c2 286.5px,#d2d2d2 289.5px,#d2d2d2 292.5px,#9e9e9e 295.5px,#9e9e9e 298.5px,#c2c2c2 301.5px,#c2c2c2 304.5px,#686868 307.5px,#686868 310.5px,#555555 313.5px,#555555 316.5px,#444444 319.5px,#444444 322.5px,#444444 325.5px,#444444 328.5px,#444444 331.5px,#444444 334.5px,#444444 337.5px,#444444 340.5px,#444444 343.5px,#444444 346.5px,#444444 349.5px,#444444 352.5px,#444444 355.5px,#444444 358.5px,#444444 361.5px,#444444 364.5px,#444444 367.5px,#444444 370.5px)"></div>
<div class="hr" style="top:122.00px;height:5.00px;background:linear-gradient(90deg,#404040 1.5px,#404040 4.5px,#404040 7.5px,#404040 10.5px,#404040 13.5px,#404040 16.5px,#404040 19.5px,#404040 22.5px,#404040 25.5px,#404040 28.5px,#404040 31.5px,#404040 34.5px,#444444 37.5px,#444444 40.5px,#8c8c8c 43.5px,#8c8c8c 46.5px,#f0f0f0 49.5px,#f0f0f0 52.5px,#fcfcfc 55.5px,#fcfcfc 58.5px,#fcfcfc 61.5px,#fcfcfc 64.5px,#e2e2e2 67.5px,#e2e2e2 70.5px,#8c8c8c 73.5px,#8c8c8c 76.5px,#555555 79.5px,#555555 82.5px,#686868 85.5px,#686868 88.5px,#d2d2d2 91.5px,#d2d2d2 94.5px,#c2c2c2 97.5px,#c2c2c2 100.5px,#686868 103.5px,#686868 106.5px,#555555 109.5px,#555555 112.5px,#555555 115.5px,#555555 118.5px,#404040 121.5px,#404040 124.5px,#404040 127.5px,#404040 130.5px,#404040 133.5px,#404040 136.5px,#404040 139.5px,#404040 142.5px,#404040 145.5px,#404040 148.5px,#404040 151.5px,#404040 154.5px,#404040 157.5px,#404040 160.5px,#444444 163.5px,#444444 166.5px,#444444 169.5px,#444444 172.5px,#444444 175.5px,#444444 178.5px,#444444 181.5px,#444444 184.5px,#555555 187.5px,#555555 190.5px,#555555 193.5px,#555555 196.5px,#686868 199.5px,#686868 202.5px,#d2d2d2 205.5px,#d2d2d2 208.5px,#d2d2d2 211.5px,#d2d2d2 214.5px,#c2c2c2 217.5px,#c2c2c2 220.5px,#e2e2e2 223.5px,#e2e2e2 226.5px,#f0f0f0 229.5px,#f0f0f0 232.5px,#e2e2e2 235.5px,#e2e2e2 238.5px,#9e9e9e 241.5px,#9e9e9e 244.5px,#8c8c8c 247.5px,#8c8c8c 250.5px,#8c8c8c 253.5px,#8c8c8c 256.5px,#7a7a7a 259.5px,#7a7a7a 262.5px,#c2c2c2 265.5px,#c2c2c2 268.5px,#c2c2c2 271.5px,#c2c2c2 274.5px,#b0b0b0 277.5px,#b0b0b0 280.5px,#c2c2c2 283.5px,#c2c2c2 286.5px,#d2d2d2 289.5px,#d2d2d2 292.5px,#b0b0b0 295.5px,#b0b0b0 298.5px,#b0b0b0 301.5px,#b0b0b0 304.5px,#686868 307.5px,#686868 310.5px,#555555 313.5px,#555555 316.5px,#444444 319.5px,#444444 322.5px,#444444 325.5px,#444444 328.5px,#444444 331.5px,#444444 334.5px,#444444 337.5px,#444444 340.5px,#444444 343.5px,#444444 346.5px,#444444 349.5px,#444444 352.5px,#444444 355.5px,#444444 358.5px,#444444 361.5px,#444444 364.5px,#444444 367.5px,#444444 370.5px)"></div>
<div class="hr" style="top:127.00px;height:5.00px;background:linear-gradient(90deg,#404040 1.5px,#404040 4.5px,#404040 7.5px,#404040 10.5px,#404040 13.5px,#404040 16.5px,#404040 19.5px,#404040 22.5px,#404040 25.5px,#404040 28.5px,#404040 31.5px,#404040 34.5px,#555555 37.5px,#555555 40.5px,#9e9e9e 43.5px,#9e9e9e 46.5px,#f0f0f0 49.5px,#f0f0f0 52.5px,#fcfcfc 55.5px,#fcfcfc 58.5px,#fcfcfc 61.5px,#fcfcfc 64.5px,#f0f0f0 67.5px,#f0f0f0 70.5px,#d2d2d2 73.5px,#d2d2d2 76.5px,#8c8c8c 79.5px,#8c8c8c 82.5px,#9e9e9e 85.5px,#9e9e9e 88.5px,#d2d2d2 91.5px,#d2d2d2 94.5px,#b0b0b0 97.5px,#b0b0b0 100.5px,#686868 103.5px,#686868 106.5px,#555555 109.5px,#555555 112.5px,#555555 115.5px,#555555 118.5px,#404040 121.5px,#404040 124.5px,#404040 127.5px,#404040 130.5px,#404040 133.5px,#404040 136.5px,#404040 139.5px,#404040 142.5px,#404040 145.5px,#404040 148.5px,#404040 151.5px,#404040 154.5px,#404040 157.5px,#404040 160.5px,#444444 163.5px,#444444 166.5px,#444444 169.5px,#444444 172.5px,#444444 175.5px,#444444 178.5px,#555555 181.5px,#555555 184.5px,#555555 187.5px,#555555 190.5px,#555555 193.5px,#555555 196.5px,#7a7a7a 199.5px,#7a7a7a 202.5px,#f0f0f0 205.5px,#f0f0f0 208.5px,#d2d2d2 211.5px,#d2d2d2 214.5px,#c2c2c2 217.5px,#c2c2c2 220.5px,#d2d2d2 223.5px,#d2d2d2 226.5px,#f0f0f0 229.5px,#f0f0f0 232.5px,#f0f0f0 235.5px,#f0f0f0 238.5px,#8c8c8c 241.5px,#8c8c8c 244.5px,#7a7a7a 247.5px,#7a7a7a 250.5px,#7a7a7a 253.5px,#7a7a7a 256.5px,#7a7a7a 259.5px,#7a7a7a 262.5px,#8c8c8c 265.5px,#8c8c8c 268.5px,#b0b0b0 271.5px,#b0b0b0 274.5px,#c2c2c2 277.5px,#c2c2c2 280.5px,#c2c2c2 283.5px,#c2c2c2 286.5px,#d2d2d2 289.5px,#d2d2d2 292.5px,#c2c2c2 295.5px,#c2c2c2 298.5px,#9e9e9e 301.5px,#9e9e9e 304.5px,#555555 307.5px,#555555 310.5px,#555555 313.5px,#555555 316.5px,#444444 319.5px,#444444 322.5px,#444444 325.5px,#444444 328.5px,#444444 331.5px,#444444 334.5px,#444444 337.5px,#444444 340.5px,#444444 343.5px,#444444 346.5px,#444444 349.5px,#444444 352.5px,#444444 355.5px,#444444 358.5px,#444444 361.5px,#444444 364.5px,#444444 367.5px,#444444 370.5px)"></div>
<div class="hr" style="top:132.00px;height:5.30px;background:linear-gradient(90deg,#404040 1.5px,#404040 4.5px,#404040 7.5px,#404040 10.5px,#404040 13.5px,#404040 16.5px,#404040 19.5px,#404040 22.5px,#404040 25.5px,#404040 28.5px,#404040 31.5px,#404040 34.5px,#444444 37.5px,#444444 40.5px,#9e9e9e 43.5px,#9e9e9e 46.5px,#f0f0f0 49.5px,#f0f0f0 52.5px,#fcfcfc 55.5px,#fcfcfc 58.5px,#fcfcfc 61.5px,#fcfcfc 64.5px,#f0f0f0 67.5px,#f0f0f0 70.5px,#c2c2c2 73.5px,#c2c2c2 76.5px,#444444 79.5px,#444444 82.5px,#7a7a7a 85.5px,#7a7a7a 88.5px,#c2c2c2 91.5px,#c2c2c2 94.5px,#9e9e9e 97.5px,#9e9e9e 100.5px,#686868 103.5px,#686868 106.5px,#555555 109.5px,#555555 112.5px,#444444 115.5px,#444444 118.5px,#404040 121.5px,#404040 124.5px,#404040 127.5px,#404040 130.5px,#404040 133.5px,#404040 136.5px,#404040 139.5px,#404040 142.5px,#404040 145.5px,#404040 148.5px,#404040 151.5px,#404040 154.5px,#404040 157.5px,#404040 160.5px,#444444 163.5px,#444444 166.5px,#444444 169.5px,#444444 172.5px,#444444 175.5px,#444444 178.5px,#444444 181.5px,#444444 184.5px,#555555 187.5px,#555555 190.5px,#555555 193.5px,#555555 196.5px,#686868 199.5px,#686868 202.5px,#f0f0f0 205.5px,#f0f0f0 208.5px,#c2c2c2 211.5px,#c2c2c2 214.5px,#9e9e9e 217.5px,#9e9e9e 220.5px,#9e9e9e 223.5px,#9e9e9e 226.5px,#b0b0b0 229.5px,#b0b0b0 232.5px,#b0b0b0 235.5px,#b0b0b0 238.5px,#7a7a7a 241.5px,#7a7a7a 244.5px,#686868 247.5px,#686868 250.5px,#686868 253.5px,#686868 256.5px,#686868 259.5px,#686868 262.5px,#444444 265.5px,#444444 268.5px,#555555 271.5px,#555555 274.5px,#b0b0b0 277.5px,#b0b0b0 280.5px,#c2c2c2 283.5px,#c2c2c2 286.5px,#d2d2d2 289.5px,#d2d2d2 292.5px,#b0b0b0 295.5px,#b0b0b0 298.5px,#686868 301.5px,#686868 304.5px,#555555 307.5px,#555555 310.5px,#555555 313.5px,#555555 316.5px,#444444 319.5px,#444444 322.5px,#444444 325.5px,#444444 328.5px,#444444 331.5px,#444444 334.5px,#444444 337.5px,#444444 340.5px,#444444 343.5px,#444444 346.5px,#444444 349.5px,#444444 352.5px,#444444 355.5px,#444444 358.5px,#444444 361.5px,#444444 364.5px,#444444 367.5px,#444444 370.5px)"></div>
<div class="hr" style="top:137.30px;height:43.90px;background:#3a3a3a"></div>
<div class="hr" style="top:181.20px;height:5.20px;background:linear-gradient(90deg,#404040 1.5px,#404040 4.5px,#404040 7.5px,#404040 10.5px,#404040 13.5px,#404040 16.5px,#404040 19.5px,#404040 22.5px,#404040 25.5px,#404040 28.5px,#404040 31.5px,#404040 34.5px,#7a7a7a 37.5px,#7a7a7a 40.5px,#e2e2e2 43.5px,#e2e2e2 46.5px,#fcfcfc 49.5px,#fcfcfc 52.5px,#fcfcfc 55.5px,#fcfcfc 58.5px,#fcfcfc 61.5px,#fcfcfc 64.5px,#fcfcfc 67.5px,#fcfcfc 70.5px,#fcfcfc 73.5px,#fcfcfc 76.5px,#f0f0f0 79.5px,#f0f0f0 82.5px,#e2e2e2 85.5px,#e2e2e2 88.5px,#b0b0b0 91.5px,#b0b0b0 94.5px,#7a7a7a 97.5px,#7a7a7a 100.5px,#686868 103.5px,#686868 106.5px,#555555 109.5px,#555555 112.5px,#444444 115.5px,#444444 118.5px,#444444 121.5px,#444444 124.5px,#444444 127.5px,#444444 130.5px,#444444 133.5px,#444444 136.5px,#444444 139.5px,#444444 142.5px,#444444 145.5px,#444444 148.5px,#444444 151.5px,#444444 154.5px,#444444 157.5px,#444444 160.5px,#555555 163.5px,#555555 166.5px,#555555 169.5px,#555555 172.5px,#555555 175.5px,#555555 178.5px,#7a7a7a 181.5px,#7a7a7a 184.5px,#8c8c8c 187.5px,#8c8c8c 190.5px,#8c8c8c 193.5px,#8c8c8c 196.5px,#9e9e9e 199.5px,#9e9e9e 202.5px,#fcfcfc 205.5px,#fcfcfc 208.5px,#fcfcfc 211.5px,#fcfcfc 214.5px,#e2e2e2 217.5px,#e2e2e2 220.5px,#7a7a7a 223.5px,#7a7a7a 226.5px,#444444 229.5px,#444444 232.5px,#444444 235.5px,#444444 238.5px,#444444 241.5px,#444444 244.5px,#444444 247.5px,#444444 250.5px,#444444 253.5px,#444444 256.5px,#444444 259.5px,#444444 262.5px,#444444 265.5px,#444444 268.5px,#7a7a7a 271.5px,#7a7a7a 274.5px,#7a7a7a 277.5px,#7a7a7a 280.5px,#555555 283.5px,#555555 286.5px,#444444 289.5px,#444444 292.5px,#8c8c8c 295.5px,#8c8c8c 298.5px,#8c8c8c 301.5px,#8c8c8c 304.5px,#686868 307.5px,#686868 310.5px,#686868 313.5px,#686868 316.5px,#555555 319.5px,#555555 322.5px,#444444 325.5px,#444444 328.5px,#444444 331.5px,#444444 334.5px,#444444 337.5px,#444444 340.5px,#444444 343.5px,#444444 346.5px,#444444 349.5px,#444444 352.5px,#444444 355.5px,#444444 358.5px,#444444 361.5px,#444444 364.5px,#444444 367.5px,#444444 370.5px)"></div>
<div class="hr" style="top:186.40px;height:5.20px;background:linear-gradient(90deg,#404040 1.5px,#404040 4.5px,#404040 7.5px,#404040 10.5px,#404040 13.5px,#404040 16.5px,#404040 19.5px,#404040 22.5px,#404040 25.5px,#404040 28.5px,#404040 31.5px,#404040 34.5px,#555555 37.5px,#555555 40.5px,#7a7a7a 43.5px,#7a7a7a 46.5px,#8c8c8c 49.5px,#8c8c8c 52.5px,#8c8c8c 55.5px,#8c8c8c 58.5px,#c2c2c2 61.5px,#c2c2c2 64.5px,#8c8c8c 67.5px,#8c8c8c 70.5px,#555555 73.5px,#555555 76.5px,#555555 79.5px,#555555 82.5px,#fcfcfc 85.5px,#fcfcfc 88.5px,#e2e2e2 91.5px,#e2e2e2 94.5px,#9e9e9e 97.5px,#9e9e9e 100.5px,#555555 103.5px,#555555 106.5px,#444444 109.5px,#444444 112.5px,#444444 115.5px,#444444 118.5px,#444444 121.5px,#444444 124.5px,#444444 127.5px,#444444 130.5px,#444444 133.5px,#444444 136.5px,#444444 139.5px,#444444 142.5px,#444444 145.5px,#444444 148.5px,#444444 151.5px,#444444 154.5px,#444444 157.5px,#444444 160.5px,#444444 163.5px,#444444 166.5px,#444444 169.5px,#444444 172.5px,#444444 175.5px,#444444 178.5px,#555555 181.5px,#555555 184.5px,#686868 187.5px,#686868 190.5px,#686868 193.5px,#686868 196.5px,#7a7a7a 199.5px,#7a7a7a 202.5px,#e2e2e2 205.5px,#e2e2e2 208.5px,#b0b0b0 211.5px,#b0b0b0 214.5px,#8c8c8c 217.5px,#8c8c8c 220.5px,#686868 223.5px,#686868 226.5px,#686868 229.5px,#686868 232.5px,#686868 235.5px,#686868 238.5px,#444444 241.5px,#444444 244.5px,#444444 247.5px,#444444 250.5px,#444444 253.5px,#444444 256.5px,#444444 259.5px,#444444 262.5px,#555555 265.5px,#555555 268.5px,#686868 271.5px,#686868 274.5px,#686868 277.5px,#686868 280.5px,#555555 283.5px,#555555 286.5px,#444444 289.5px,#444444 292.5px,#8c8c8c 295.5px,#8c8c8c 298.5px,#7a7a7a 301.5px,#7a7a7a 304.5px,#686868 307.5px,#686868 310.5px,#686868 313.5px,#686868 316.5px,#686868 319.5px,#686868 322.5px,#555555 325.5px,#555555 328.5px,#555555 331.5px,#555555 334.5px,#555555 337.5px,#555555 340.5px,#555555 343.5px,#555555 346.5px,#555555 349.5px,#555555 352.5px,#555555 355.5px,#555555 358.5px,#555555 361.5px,#555555 364.5px,#555555 367.5px,#555555 370.5px)"></div>
<div class="hr" style="top:191.60px;height:5.30px;background:linear-gradient(90deg,#404040 1.5px,#404040 4.5px,#404040 7.5px,#404040 10.5px,#404040 13.5px,#404040 16.5px,#404040 19.5px,#404040 22.5px,#404040 25.5px,#404040 28.5px,#404040 31.5px,#404040 34.5px,#555555 37.5px,#555555 40.5px,#8c8c8c 43.5px,#8c8c8c 46.5px,#9e9e9e 49.5px,#9e9e9e 52.5px,#444444 55.5px,#444444 58.5px,#444444 61.5px,#444444 64.5px,#7a7a7a 67.5px,#7a7a7a 70.5px,#8c8c8c 73.5px,#8c8c8c 76.5px,#9e9e9e 79.5px,#9e9e9e 82.5px,#f0f0f0 85.5px,#f0f0f0 88.5px,#fcfcfc 91.5px,#fcfcfc 94.5px,#8c8c8c 97.5px,#8c8c8c 100.5px,#555555 103.5px,#555555 106.5px,#555555 109.5px,#555555 112.5px,#444444 115.5px,#444444 118.5px,#444444 121.5px,#444444 124.5px,#444444 127.5px,#444444 130.5px,#444444 133.5px,#444444 136.5px,#444444 139.5px,#444444 142.5px,#444444 145.5px,#444444 148.5px,#444444 151.5px,#444444 154.5px,#444444 157.5px,#444444 160.5px,#444444 163.5px,#444444 166.5px,#444444 169.5px,#444444 172.5px,#444444 175.5px,#444444 178.5px,#555555 181.5px,#555555 184.5px,#686868 187.5px,#686868 190.5px,#7a7a7a 193.5px,#7a7a7a 196.5px,#7a7a7a 199.5px,#7a7a7a 202.5px,#fcfcfc 205.5px,#fcfcfc 208.5px,#fcfcfc 211.5px,#fcfcfc 214.5px,#c2c2c2 217.5px,#c2c2c2 220.5px,#b0b0b0 223.5px,#b0b0b0 226.5px,#b0b0b0 229.5px,#b0b0b0 232.5px,#b0b0b0 235.5px,#b0b0b0 238.5px,#9e9e9e 241.5px,#9e9e9e 244.5px,#8c8c8c 247.5px,#8c8c8c 250.5px,#8c8c8c 253.5px,#8c8c8c 256.5px,#7a7a7a 259.5px,#7a7a7a 262.5px,#7a7a7a 265.5px,#7a7a7a 268.5px,#7a7a7a 271.5px,#7a7a7a 274.5px,#7a7a7a 277.5px,#7a7a7a 280.5px,#686868 283.5px,#686868 286.5px,#444444 289.5px,#444444 292.5px,#444444 295.5px,#444444 298.5px,#404040 301.5px,#404040 304.5px,#686868 307.5px,#686868 310.5px,#7a7a7a 313.5px,#7a7a7a 316.5px,#7a7a7a 319.5px,#7a7a7a 322.5px,#555555 325.5px,#555555 328.5px,#555555 331.5px,#555555 334.5px,#555555 337.5px,#555555 340.5px,#555555 343.5px,#555555 346.5px,#555555 349.5px,#555555 352.5px,#555555 355.5px,#555555 358.5px,#555555 361.5px,#555555 364.5px,#555555 367.5px,#555555 370.5px)"></div>
<div class="hr" style="top:196.90px;height:5.80px;background:linear-gradient(90deg,#404040 1.5px,#404040 4.5px,#404040 7.5px,#404040 10.5px,#404040 13.5px,#404040 16.5px,#404040 19.5px,#404040 22.5px,#404040 25.5px,#404040 28.5px,#404040 31.5px,#404040 34.5px,#686868 37.5px,#686868 40.5px,#b0b0b0 43.5px,#b0b0b0 46.5px,#d2d2d2 49.5px,#d2d2d2 52.5px,#c2c2c2 55.5px,#c2c2c2 58.5px,#9e9e9e 61.5px,#9e9e9e 64.5px,#7a7a7a 67.5px,#7a7a7a 70.5px,#686868 73.5px,#686868 76.5px,#686868 79.5px,#686868 82.5px,#8c8c8c 85.5px,#8c8c8c 88.5px,#b0b0b0 91.5px,#b0b0b0 94.5px,#8c8c8c 97.5px,#8c8c8c 100.5px,#686868 103.5px,#686868 106.5px,#555555 109.5px,#555555 112.5px,#444444 115.5px,#444444 118.5px,#444444 121.5px,#444444 124.5px,#444444 127.5px,#444444 130.5px,#444444 133.5px,#444444 136.5px,#444444 139.5px,#444444 142.5px,#444444 145.5px,#444444 148.5px,#444444 151.5px,#444444 154.5px,#444444 157.5px,#444444 160.5px,#444444 163.5px,#444444 166.5px,#444444 169.5px,#444444 172.5px,#444444 175.5px,#444444 178.5px,#555555 181.5px,#555555 184.5px,#686868 187.5px,#686868 190.5px,#7a7a7a 193.5px,#7a7a7a 196.5px,#7a7a7a 199.5px,#7a7a7a 202.5px,#fcfcfc 205.5px,#fcfcfc 208.5px,#fcfcfc 211.5px,#fcfcfc 214.5px,#b0b0b0 217.5px,#b0b0b0 220.5px,#b0b0b0 223.5px,#b0b0b0 226.5px,#b0b0b0 229.5px,#b0b0b0 232.5px,#b0b0b0 235.5px,#b0b0b0 238.5px,#9e9e9e 241.5px,#9e9e9e 244.5px,#8c8c8c 247.5px,#8c8c8c 250.5px,#8c8c8c 253.5px,#8c8c8c 256.5px,#7a7a7a 259.5px,#7a7a7a 262.5px,#7a7a7a 265.5px,#7a7a7a 268.5px,#7a7a7a 271.5px,#7a7a7a 274.5px,#7a7a7a 277.5px,#7a7a7a 280.5px,#7a7a7a 283.5px,#7a7a7a 286.5px,#686868 289.5px,#686868 292.5px,#686868 295.5px,#686868 298.5px,#686868 301.5px,#686868 304.5px,#686868 307.5px,#686868 310.5px,#686868 313.5px,#686868 316.5px,#686868 319.5px,#686868 322.5px,#555555 325.5px,#555555 328.5px,#555555 331.5px,#555555 334.5px,#555555 337.5px,#555555 340.5px,#555555 343.5px,#555555 346.5px,#555555 349.5px,#555555 352.5px,#555555 355.5px,#555555 358.5px,#555555 361.5px,#555555 364.5px,#555555 367.5px,#555555 370.5px)"></div>
</div>
<div style="position:absolute;left:510.0px;top:44.3px;width:19.6px;height:158.4px;background:linear-gradient(180deg,#f6f6f6,#000)"></div>
<div style="position:absolute;left:504.70px;top:43px;width:1.2px;height:159.7px;background:#111"></div>
<div style="position:absolute;left:134px;top:201.7px;width:371.7px;height:1.0px;background:#1c1c1c"></div>
<svg width="633" height="484" viewBox="0 0 633 484">
<line x1="75.80" y1="18.40" x2="75.80" y2="249.50" stroke="#555" stroke-width="1.10"/>
<line x1="75.80" y1="246.65" x2="79.80" y2="246.65" stroke="#222" stroke-width="1.10"/>
<line x1="75.80" y1="241.40" x2="84.40" y2="241.40" stroke="#333" stroke-width="1.10"/>
<line x1="75.80" y1="236.15" x2="79.80" y2="236.15" stroke="#222" stroke-width="1.10"/>
<line x1="75.80" y1="230.90" x2="79.80" y2="230.90" stroke="#222" stroke-width="1.10"/>
<line x1="75.80" y1="225.66" x2="79.80" y2="225.66" stroke="#222" stroke-width="1.10"/>
<line x1="75.80" y1="220.41" x2="79.80" y2="220.41" stroke="#222" stroke-width="1.10"/>
<line x1="75.80" y1="215.16" x2="79.80" y2="215.16" stroke="#222" stroke-width="1.10"/>
<line x1="75.80" y1="209.91" x2="79.80" y2="209.91" stroke="#222" stroke-width="1.10"/>
<line x1="75.80" y1="204.67" x2="79.80" y2="204.67" stroke="#222" stroke-width="1.10"/>
<line x1="75.80" y1="199.42" x2="79.80" y2="199.42" stroke="#222" stroke-width="1.10"/>
<line x1="75.80" y1="194.17" x2="79.80" y2="194.17" stroke="#222" stroke-width="1.10"/>
<line x1="75.80" y1="188.92" x2="84.40" y2="188.92" stroke="#333" stroke-width="1.10"/>
<line x1="75.80" y1="183.68" x2="79.80" y2="183.68" stroke="#222" stroke-width="1.10"/>
<line x1="75.80" y1="178.43" x2="79.80" y2="178.43" stroke="#222" stroke-width="1.10"/>
<line x1="75.80" y1="173.18" x2="79.80" y2="173.18" stroke="#222" stroke-width="1.10"/>
<line x1="75.80" y1="167.94" x2="79.80" y2="167.94" stroke="#222" stroke-width="1.10"/>
<line x1="75.80" y1="162.69" x2="79.80" y2="162.69" stroke="#222" stroke-width="1.10"/>
<line x1="75.80" y1="157.44" x2="79.80" y2="157.44" stroke="#222" stroke-width="1.10"/>
<line x1="75.80" y1="152.19" x2="79.80" y2="152.19" stroke="#222" stroke-width="1.10"/>
<line x1="75.80" y1="146.94" x2="79.80" y2="146.94" stroke="#222" stroke-width="1.10"/>
<line x1="75.80" y1="141.70" x2="79.80" y2="141.70" stroke="#222" stroke-width="1.10"/>
<line x1="75.80" y1="136.45" x2="84.40" y2="136.45" stroke="#333" stroke-width="1.10"/>
<line x1="75.80" y1="131.20" x2="79.80" y2="131.20" stroke="#222" stroke-width="1.10"/>
<line x1="75.80" y1="125.95" x2="79.80" y2="125.95" stroke="#222" stroke-width="1.10"/>
<line x1="75.80" y1="120.71" x2="79.80" y2="120.71" stroke="#222" stroke-width="1.10"/>
<line x1="75.80" y1="115.46" x2="79.80" y2="115.46" stroke="#222" stroke-width="1.10"/>
<line x1="75.80" y1="110.21" x2="79.80" y2="110.21" stroke="#222" stroke-width="1.10"/>
<line x1="75.80" y1="104.96" x2="79.80" y2="104.96" stroke="#222" stroke-width="1.10"/>
<line x1="75.80" y1="99.72" x2="79.80" y2="99.72" stroke="#222" stroke-width="1.10"/>
<line x1="75.80" y1="94.47" x2="79.80" y2="94.47" stroke="#222" stroke-width="1.10"/>
<line x1="75.80" y1="89.22" x2="79.80" y2="89.22" stroke="#222" stroke-width="1.10"/>
<line x1="75.80" y1="83.97" x2="84.40" y2="83.97" stroke="#333" stroke-width="1.10"/>
<line x1="75.80" y1="78.73" x2="79.80" y2="78.73" stroke="#222" stroke-width="1.10"/>
<line x1="75.80" y1="73.48" x2="79.80" y2="73.48" stroke="#222" stroke-width="1.10"/>
<line x1="75.80" y1="68.23" x2="79.80" y2="68.23" stroke="#222" stroke-width="1.10"/>
<line x1="75.80" y1="62.98" x2="79.80" y2="62.98" stroke="#222" stroke-width="1.10"/>
<line x1="75.80" y1="57.74" x2="79.80" y2="57.74" stroke="#222" stroke-width="1.10"/>
<line x1="75.80" y1="52.49" x2="79.80" y2="52.49" stroke="#222" stroke-width="1.10"/>
<line x1="75.80" y1="47.24" x2="79.80" y2="47.24" stroke="#222" stroke-width="1.10"/>
<line x1="75.80" y1="41.99" x2="79.80" y2="41.99" stroke="#222" stroke-width="1.10"/>
<line x1="75.80" y1="36.75" x2="79.80" y2="36.75" stroke="#222" stroke-width="1.10"/>
<line x1="75.80" y1="31.50" x2="84.40" y2="31.50" stroke="#333" stroke-width="1.10"/>
<line x1="75.80" y1="26.25" x2="79.80" y2="26.25" stroke="#222" stroke-width="1.10"/>
<line x1="75.80" y1="21.01" x2="79.80" y2="21.01" stroke="#222" stroke-width="1.10"/>
<line x1="565.00" y1="18.60" x2="565.00" y2="249.40" stroke="#555" stroke-width="1.10"/>
<line x1="556.30" y1="243.50" x2="565.00" y2="243.50" stroke="#222" stroke-width="1.10"/>
<line x1="561.00" y1="222.89" x2="565.00" y2="222.89" stroke="#222" stroke-width="1.10"/>
<line x1="556.30" y1="202.28" x2="565.00" y2="202.28" stroke="#222" stroke-width="1.10"/>
<line x1="561.00" y1="181.67" x2="565.00" y2="181.67" stroke="#222" stroke-width="1.10"/>
<line x1="556.30" y1="161.06" x2="565.00" y2="161.06" stroke="#222" stroke-width="1.10"/>
<line x1="561.00" y1="140.45" x2="565.00" y2="140.45" stroke="#222" stroke-width="1.10"/>
<line x1="556.30" y1="119.84" x2="565.00" y2="119.84" stroke="#222" stroke-width="1.10"/>
<line x1="561.00" y1="99.23" x2="565.00" y2="99.23" stroke="#222" stroke-width="1.10"/>
<line x1="556.30" y1="78.62" x2="565.00" y2="78.62" stroke="#222" stroke-width="1.10"/>
<line x1="561.00" y1="58.01" x2="565.00" y2="58.01" stroke="#222" stroke-width="1.10"/>
<line x1="556.30" y1="37.40" x2="565.00" y2="37.40" stroke="#222" stroke-width="1.10"/>
<line x1="75.80" y1="267.40" x2="565.10" y2="267.40" stroke="#000" stroke-width="1.50"/>
<line x1="75.80" y1="267.40" x2="75.80" y2="418.30" stroke="#555" stroke-width="1.10"/>
<line x1="75.80" y1="418.30" x2="565.10" y2="418.30" stroke="#555" stroke-width="1.10"/>
<line x1="565.10" y1="267.40" x2="565.10" y2="418.30" stroke="#555" stroke-width="1.10"/>
<line x1="87.70" y1="260.20" x2="87.70" y2="275.90" stroke="#000" stroke-width="1.10"/>
<line x1="87.70" y1="409.30" x2="87.70" y2="418.30" stroke="#000" stroke-width="1.10"/>
<line x1="147.39" y1="264.00" x2="147.39" y2="271.50" stroke="#000" stroke-width="1.10"/>
<line x1="147.39" y1="413.80" x2="147.39" y2="418.30" stroke="#000" stroke-width="1.10"/>
<line x1="207.08" y1="264.00" x2="207.08" y2="271.50" stroke="#000" stroke-width="1.10"/>
<line x1="207.08" y1="413.80" x2="207.08" y2="418.30" stroke="#000" stroke-width="1.10"/>
<line x1="266.77" y1="264.00" x2="266.77" y2="271.50" stroke="#000" stroke-width="1.10"/>
<line x1="266.77" y1="413.80" x2="266.77" y2="418.30" stroke="#000" stroke-width="1.10"/>
<line x1="326.46" y1="260.20" x2="326.46" y2="275.90" stroke="#000" stroke-width="1.10"/>
<line x1="326.46" y1="409.30" x2="326.46" y2="418.30" stroke="#000" stroke-width="1.10"/>
<line x1="386.15" y1="264.00" x2="386.15" y2="271.50" stroke="#000" stroke-width="1.10"/>
<line x1="386.15" y1="413.80" x2="386.15" y2="418.30" stroke="#000" stroke-width="1.10"/>
<line x1="445.84" y1="264.00" x2="445.84" y2="271.50" stroke="#000" stroke-width="1.10"/>
<line x1="445.84" y1="413.80" x2="445.84" y2="418.30" stroke="#000" stroke-width="1.10"/>
<line x1="505.53" y1="264.00" x2="505.53" y2="271.50" stroke="#000" stroke-width="1.10"/>
<line x1="505.53" y1="413.80" x2="505.53" y2="418.30" stroke="#000" stroke-width="1.10"/>
<line x1="565.22" y1="260.20" x2="565.22" y2="275.90" stroke="#000" stroke-width="1.10"/>
<line x1="565.22" y1="409.30" x2="565.22" y2="418.30" stroke="#000" stroke-width="1.10"/>
<line x1="75.80" y1="408.18" x2="80.80" y2="408.18" stroke="#222" stroke-width="1.10"/>
<line x1="560.10" y1="408.18" x2="565.10" y2="408.18" stroke="#222" stroke-width="1.10"/>
<line x1="75.80" y1="391.80" x2="85.80" y2="391.80" stroke="#222" stroke-width="1.10"/>
<line x1="555.10" y1="391.80" x2="565.10" y2="391.80" stroke="#222" stroke-width="1.10"/>
<line x1="75.80" y1="375.42" x2="80.80" y2="375.42" stroke="#222" stroke-width="1.10"/>
<line x1="560.10" y1="375.42" x2="565.10" y2="375.42" stroke="#222" stroke-width="1.10"/>
<line x1="75.80" y1="359.04" x2="85.80" y2="359.04" stroke="#222" stroke-width="1.10"/>
<line x1="555.10" y1="359.04" x2="565.10" y2="359.04" stroke="#222" stroke-width="1.10"/>
<line x1="75.80" y1="342.65" x2="80.80" y2="342.65" stroke="#222" stroke-width="1.10"/>
<line x1="560.10" y1="342.65" x2="565.10" y2="342.65" stroke="#222" stroke-width="1.10"/>
<line x1="75.80" y1="326.27" x2="85.80" y2="326.27" stroke="#222" stroke-width="1.10"/>
<line x1="555.10" y1="326.27" x2="565.10" y2="326.27" stroke="#222" stroke-width="1.10"/>
<line x1="75.80" y1="309.89" x2="80.80" y2="309.89" stroke="#222" stroke-width="1.10"/>
<line x1="560.10" y1="309.89" x2="565.10" y2="309.89" stroke="#222" stroke-width="1.10"/>
<line x1="75.80" y1="293.50" x2="85.80" y2="293.50" stroke="#222" stroke-width="1.10"/>
<line x1="555.10" y1="293.50" x2="565.10" y2="293.50" stroke="#222" stroke-width="1.10"/>
<line x1="75.80" y1="277.12" x2="80.80" y2="277.12" stroke="#222" stroke-width="1.10"/>
<line x1="560.10" y1="277.12" x2="565.10" y2="277.12" stroke="#222" stroke-width="1.10"/>
<path d="M135.1 392.20L135.6 392.18L136.1 392.16L136.6 392.14L137.1 392.11L137.6 392.09L138.1 392.07L138.6 392.04L139.1 392.01L139.6 391.98L140.1 391.95L140.6 391.92L141.1 391.89L141.6 391.86L142.1 391.83L142.6 391.80L143.1 391.76L143.6 391.73L144.1 391.69L144.6 391.66L145.1 391.62L145.6 391.58L146.1 391.55L146.6 391.51L147.1 391.47L147.6 391.42L148.1 391.37L148.6 391.32L149.1 391.26L149.6 391.21L150.1 391.15L150.6 391.09L151.1 391.04L151.6 390.98L152.1 390.93L152.6 390.89L153.1 390.85L153.6 390.82L154.1 390.79L154.6 390.77L155.1 390.75L155.6 390.73L156.1 390.72L156.6 390.71L157.1 390.70L157.6 390.69L158.1 390.68L158.6 390.67L159.1 390.66L159.6 390.65L160.1 390.63L160.6 390.62L161.1 390.60L161.6 390.59L162.1 390.57L162.6 390.54L163.1 390.51L163.6 390.47L164.1 390.39L164.6 390.28L165.1 390.12L165.6 389.94L166.1 389.74L166.6 389.51L167.1 389.27L167.6 389.02L168.1 388.76L168.6 388.49L169.1 388.20L169.6 387.88L170.1 387.52L170.6 387.12L171.1 386.68L171.6 386.20L172.1 385.68L172.6 385.12L173.1 384.49L173.6 383.74L174.1 382.89L174.6 381.94L175.1 380.88L175.6 379.73L176.1 378.49L176.6 377.15L177.1 375.59L177.6 373.81L178.1 371.81L178.6 369.60L179.1 367.21L179.6 364.52L180.1 361.23L180.6 357.56L181.1 353.84L181.6 350.31L182.1 346.77L182.6 343.23L183.1 339.77L183.6 336.50L184.1 333.32L184.6 330.16L185.1 327.15L185.6 324.42L186.1 322.10L186.6 320.11L187.1 318.28L187.6 316.61L188.1 315.09L188.6 313.70L189.1 312.44L189.6 311.28L190.1 310.18L190.6 309.14L191.1 308.18L191.6 307.29L192.1 306.49L192.6 305.78L193.1 305.16L193.6 304.57L194.1 304.00L194.6 303.47L195.1 303.00L195.6 302.59L196.1 302.26L196.6 302.03L197.1 301.89L197.6 301.78L198.1 301.70L198.6 301.62L199.1 301.54L199.6 301.45L200.1 301.31L200.6 301.13L201.1 300.91L201.6 300.70L202.1 300.53L202.6 300.42L203.1 300.40L203.6 300.44L204.1 300.52L204.6 300.62L205.1 300.75L205.6 300.90L206.1 301.08L206.6 301.38L207.1 301.82L207.6 302.35L208.1 302.95L208.6 303.58L209.1 304.23L209.6 304.96L210.1 305.79L210.6 306.70L211.1 307.67L211.6 308.67L212.1 309.70L212.6 310.76L213.1 311.87L213.6 313.04L214.1 314.26L214.6 315.53L215.1 316.83L215.6 318.18L216.1 319.59L216.6 321.07L217.1 322.62L217.6 324.26L218.1 326.00L218.6 327.86L219.1 329.83L219.6 331.91L220.1 334.09L220.6 336.46L221.1 338.99L221.6 341.60L222.1 344.24L222.6 346.83L223.1 349.32L223.6 351.71L224.1 354.08L224.6 356.43L225.1 358.72L225.6 360.95L226.1 363.08L226.6 365.10L227.1 367.07L227.6 369.02L228.1 370.90L228.6 372.68L229.1 374.31L229.6 375.77L230.1 377.05L230.6 378.26L231.1 379.42L231.6 380.50L232.1 381.50L232.6 382.43L233.1 383.26L233.6 383.99L234.1 384.62L234.6 385.20L235.1 385.76L235.6 386.31L236.1 386.82L236.6 387.30L237.1 387.74L237.6 388.13L238.1 388.48L238.6 388.77L239.1 389.01L239.6 389.17L240.1 389.29L240.6 389.40L241.1 389.50L241.6 389.59L242.1 389.67L242.6 389.75L243.1 389.82L243.6 389.88L244.1 389.94L244.6 390.00L245.1 390.05L245.6 390.10L246.1 390.14L246.6 390.19L247.1 390.23L247.6 390.27L248.1 390.31L248.6 390.35L249.1 390.39L249.6 390.42L250.1 390.46L250.6 390.50L251.1 390.53L251.6 390.56L252.1 390.60L252.6 390.63L253.1 390.66L253.6 390.69L254.1 390.72L254.6 390.75L255.1 390.78L255.6 390.81L256.1 390.84L256.6 390.86L257.1 390.89L257.6 390.92L258.1 390.94L258.6 390.97L259.1 390.99L259.6 391.02L260.1 391.04L260.6 391.06L261.1 391.09L261.6 391.11L262.1 391.13L262.6 391.15L263.1 391.17L263.6 391.19L264.1 391.22L264.6 391.24L265.1 391.26L265.6 391.28L266.1 391.30L266.6 391.32L267.1 391.34L267.6 391.36L268.1 391.38L268.6 391.40L269.1 391.42L269.6 391.44L270.1 391.46L270.6 391.48L271.1 391.50L271.6 391.52L272.1 391.53L272.6 391.55L273.1 391.57L273.6 391.58L274.1 391.60L274.6 391.61L275.1 391.63L275.6 391.64L276.1 391.66L276.6 391.67L277.1 391.69L277.6 391.71L278.1 391.72L278.6 391.74L279.1 391.76L279.6 391.78L280.1 391.80L280.6 391.83L281.1 391.85L281.6 391.88L282.1 391.91L282.6 391.94L283.1 391.97L283.6 392.00L284.1 392.04L284.6 392.07L285.1 392.11L285.6 392.14L286.1 392.18L286.6 392.22L287.1 392.26L287.6 392.30L288.1 392.34L288.6 392.38L289.1 392.42L289.6 392.46L290.1 392.50L290.6 392.55L291.1 392.59L291.6 392.63L292.1 392.67L292.6 392.72L293.1 392.77L293.6 392.82L294.1 392.88L294.6 392.95L295.1 393.02L295.6 393.09L296.1 393.16L296.6 393.22L297.1 393.29L297.6 393.35L298.1 393.41L298.6 393.46L299.1 393.51L299.6 393.55L300.1 393.58L300.6 393.59L301.1 393.60L301.6 393.60L302.1 393.59L302.6 393.58L303.1 393.56L303.6 393.54L304.1 393.52L304.6 393.48L305.1 393.45L305.6 393.41L306.1 393.36L306.6 393.31L307.1 393.20L307.6 392.95L308.1 392.58L308.6 392.11L309.1 391.59L309.6 391.03L310.1 390.42L310.6 389.64L311.1 388.72L311.6 387.72L312.1 386.70L312.6 385.65L313.1 384.50L313.6 383.30L314.1 382.14L314.6 381.09L315.1 380.18L315.6 379.35L316.1 378.57L316.6 377.82L317.1 377.08L317.6 376.32L318.1 375.52L318.6 374.74L319.1 373.97L319.6 373.18L320.1 372.37L320.6 371.53L321.1 370.64L321.6 369.74L322.1 368.81L322.6 367.84L323.1 366.82L323.6 365.73L324.1 364.56L324.6 363.28L325.1 361.88L325.6 360.38L326.1 358.76L326.6 357.05L327.1 355.12L327.6 353.01L328.1 350.80L328.6 348.51L329.1 346.08L329.6 343.56L330.1 341.06L330.6 338.64L331.1 336.27L331.6 333.93L332.1 331.61L332.6 329.31L333.1 327.02L333.6 324.69L334.1 322.37L334.6 320.14L335.1 318.07L335.6 316.16L336.1 314.27L336.6 312.46L337.1 310.86L337.6 309.59L338.1 308.67L338.6 307.81L339.1 307.02L339.6 306.34L340.1 305.84L340.6 305.55L341.1 305.51L341.6 305.63L342.1 305.87L342.6 306.19L343.1 306.59L343.6 307.03L344.1 307.50L344.6 308.16L345.1 309.03L345.6 310.07L346.1 311.22L346.6 312.41L347.1 313.60L347.6 314.82L348.1 316.13L348.6 317.51L349.1 318.95L349.6 320.42L350.1 321.90L350.6 323.38L351.1 324.86L351.6 326.37L352.1 327.94L352.6 329.59L353.1 331.35L353.6 333.31L354.1 335.55L354.6 337.93L355.1 340.28L355.6 342.44L356.1 344.53L356.6 346.58L357.1 348.59L357.6 350.54L358.1 352.43L358.6 354.25L359.1 356.01L359.6 357.77L360.1 359.49L360.6 361.16L361.1 362.75L361.6 364.23L362.1 365.60L362.6 366.83L363.1 368.00L363.6 369.13L364.1 370.19L364.6 371.20L365.1 372.16L365.6 373.05L366.1 373.88L366.6 374.65L367.1 375.37L367.6 376.04L368.1 376.68L368.6 377.29L369.1 377.86L369.6 378.42L370.1 378.95L370.6 379.46L371.1 379.96L371.6 380.44L372.1 380.92L372.6 381.39L373.1 381.85L373.6 382.29L374.1 382.71L374.6 383.11L375.1 383.51L375.6 383.89L376.1 384.27L376.6 384.65L377.1 385.03L377.6 385.41L378.1 385.80L378.6 386.19L379.1 386.59L379.6 387.01L380.1 387.45L380.6 387.89L381.1 388.35L381.6 388.81L382.1 389.28L382.6 389.74L383.1 390.21L383.6 390.68L384.1 391.14L384.6 391.59L385.1 392.10L385.6 392.67L386.1 393.26L386.6 393.84L387.1 394.38L387.6 394.85L388.1 395.21L388.6 395.44L389.1 395.50L389.6 395.42L390.1 395.23L390.6 394.96L391.1 394.60L391.6 394.19L392.1 393.73L392.6 393.24L393.1 392.72L393.6 392.21L394.1 391.69L394.6 391.05L395.1 390.30L395.6 389.47L396.1 388.57L396.6 387.64L397.1 386.69L397.6 385.77L398.1 384.89L398.6 384.08L399.1 383.36L399.6 382.65L400.1 381.92L400.6 381.18L401.1 380.47L401.6 379.83L402.1 379.26L402.6 378.81L403.1 378.51L403.6 378.35L404.1 378.24L404.6 378.14L405.1 378.04L405.6 377.97L406.1 377.90L406.6 377.85L407.1 377.82L407.6 377.80L408.1 377.80L408.6 377.83L409.1 377.88L409.6 377.94L410.1 378.01L410.6 378.09L411.1 378.17L411.6 378.24L412.1 378.31L412.6 378.36L413.1 378.39L413.6 378.40L414.1 378.28L414.6 378.03L415.1 377.68L415.6 377.25L416.1 376.78L416.6 376.31L417.1 375.87L417.6 375.49L418.1 375.19L418.6 374.89L419.1 374.58L419.6 374.28L420.1 373.97L420.6 373.68L421.1 373.42L421.6 373.18L422.1 372.98L422.6 372.83L423.1 372.73L423.6 372.70L424.1 372.73L424.6 372.83L425.1 372.99L425.6 373.19L426.1 373.42L426.6 373.69L427.1 373.98L427.6 374.28L428.1 374.59L428.6 374.90L429.1 375.19L429.6 375.47L430.1 375.77L430.6 376.09L431.1 376.43L431.6 376.78L432.1 377.14L432.6 377.51L433.1 377.88L433.6 378.25L434.1 378.63L434.6 378.99L435.1 379.35L435.6 379.70L436.1 380.04L436.6 380.36L437.1 380.69L437.6 381.00L438.1 381.32L438.6 381.63L439.1 381.95L439.6 382.28L440.1 382.61L440.6 382.95L441.1 383.30L441.6 383.67L442.1 384.06L442.6 384.49L443.1 384.95L443.6 385.45L444.1 385.95L444.6 386.46L445.1 386.95L445.6 387.42L446.1 387.85L446.6 388.24L447.1 388.56L447.6 388.85L448.1 389.11L448.6 389.36L449.1 389.60L449.6 389.82L450.1 390.03L450.6 390.23L451.1 390.43L451.6 390.63L452.1 390.82L452.6 391.02L453.1 391.22L453.6 391.43L454.1 391.64L454.6 391.86L455.1 392.09L455.6 392.31L456.1 392.53L456.6 392.74L457.1 392.93L457.6 393.11L458.1 393.27L458.6 393.41L459.1 393.52L459.6 393.62L460.1 393.71L460.6 393.79L461.1 393.87L461.6 393.95L462.1 394.02L462.6 394.08L463.1 394.15L463.6 394.21L464.1 394.26L464.6 394.32L465.1 394.37L465.6 394.42L466.1 394.47L466.6 394.52L467.1 394.56L467.6 394.61L468.1 394.66L468.6 394.70L469.1 394.75L469.6 394.80L470.1 394.85L470.6 394.90L471.1 394.94L471.6 394.98L472.1 395.03L472.6 395.06L473.1 395.10L473.6 395.13L474.1 395.15L474.6 395.17L475.1 395.19L475.6 395.20L476.1 395.20L476.6 395.18L477.1 395.14L477.6 395.07L478.1 394.99L478.6 394.90L479.1 394.79L479.6 394.68L480.1 394.56L480.6 394.45L481.1 394.32L481.6 394.15L482.1 393.94L482.6 393.70L483.1 393.45L483.6 393.19L484.1 392.94L484.6 392.72L485.1 392.53L485.6 392.39L486.1 392.31L486.6 392.30L487.1 392.30L487.6 392.30L488.1 392.30L488.6 392.30L489.1 392.30L489.6 392.30L490.1 392.30L490.6 392.30" fill="none" stroke="#000" stroke-width="1.2"/>
<path d="M135.1 391.40L135.6 391.38L136.1 391.36L136.6 391.34L137.1 391.31L137.6 391.29L138.1 391.27L138.6 391.24L139.1 391.21L139.6 391.18L140.1 391.15L140.6 391.12L141.1 391.09L141.6 391.06L142.1 391.03L142.6 391.00L143.1 390.96L143.6 390.93L144.1 390.89L144.6 390.86L145.1 390.82L145.6 390.78L146.1 390.75L146.6 390.71L147.1 390.67L147.6 390.62L148.1 390.57L148.6 390.52L149.1 390.46L149.6 390.41L150.1 390.35L150.6 390.29L151.1 390.24L151.6 390.18L152.1 390.13L152.6 390.09L153.1 390.05L153.6 390.02L154.1 389.99L154.6 389.97L155.1 389.95L155.6 389.93L156.1 389.92L156.6 389.91L157.1 389.90L157.6 389.89L158.1 389.88L158.6 389.87L159.1 389.86L159.6 389.85L160.1 389.83L160.6 389.82L161.1 389.80L161.6 389.79L162.1 389.77L162.6 389.74L163.1 389.73L163.6 389.76L164.1 389.74L164.6 389.68L165.1 389.60L165.6 389.50L166.1 389.36L166.6 389.12L167.1 388.84L167.6 388.52L168.1 388.15L168.6 387.76L169.1 387.32L169.6 386.86L170.1 386.36L170.6 385.82L171.1 385.24L171.6 384.57L172.1 383.79L172.6 382.90L173.1 381.90L173.6 380.78L174.1 379.54L174.6 378.18L175.1 376.68L175.6 374.67L176.1 372.11L176.6 369.21L177.1 366.16L177.6 363.15L178.1 360.30L178.6 357.44L179.1 354.51L179.6 351.49L180.1 348.36L180.6 345.03L181.1 341.56L181.6 338.06L182.1 334.66L182.6 331.35L183.1 327.99L183.6 324.69L184.1 321.54L184.6 318.66L185.1 316.12L185.6 313.73L186.1 311.44L186.6 309.28L187.1 307.27L187.6 305.42L188.1 303.76L188.6 302.30L189.1 300.98L189.6 299.72L190.1 298.55L190.6 297.47L191.1 296.51L191.6 295.69L192.1 295.02L192.6 294.49L193.1 293.99L193.6 293.50L194.1 293.04L194.6 292.62L195.1 292.23L195.6 291.89L196.1 291.60L196.6 291.37L197.1 291.20L197.6 291.12L198.1 291.10L198.6 291.13L199.1 291.19L199.6 291.27L200.1 291.38L200.6 291.51L201.1 291.67L201.6 291.85L202.1 292.04L202.6 292.25L203.1 292.48L203.6 292.71L204.1 292.96L204.6 293.22L205.1 293.49L205.6 293.78L206.1 294.16L206.6 294.62L207.1 295.15L207.6 295.75L208.1 296.38L208.6 297.06L209.1 297.75L209.6 298.46L210.1 299.19L210.6 299.98L211.1 300.83L211.6 301.74L212.1 302.69L212.6 303.68L213.1 304.70L213.6 305.75L214.1 306.81L214.6 307.89L215.1 308.98L215.6 310.11L216.1 311.31L216.6 312.61L217.1 314.02L217.6 315.57L218.1 317.37L218.6 319.56L219.1 322.00L219.6 324.63L220.1 327.33L220.6 329.98L221.1 332.67L221.6 335.53L222.1 338.58L222.6 341.66L223.1 344.40L223.6 347.03L224.1 349.64L224.6 352.22L225.1 354.75L225.6 357.19L226.1 359.54L226.6 361.76L227.1 363.93L227.6 366.07L228.1 368.14L228.6 370.10L229.1 371.90L229.6 373.50L230.1 374.91L230.6 376.24L231.1 377.51L231.6 378.70L232.1 379.81L232.6 380.82L233.1 381.73L233.6 382.54L234.1 383.23L234.6 383.87L235.1 384.49L235.6 385.09L236.1 385.65L236.6 386.18L237.1 386.66L237.6 387.10L238.1 387.48L238.6 387.80L239.1 388.06L239.6 388.24L240.1 388.37L240.6 388.49L241.1 388.60L241.6 388.70L242.1 388.79L242.6 388.87L243.1 388.95L243.6 389.02L244.1 389.09L244.6 389.15L245.1 389.21L245.6 389.26L246.1 389.31L246.6 389.35L247.1 389.40L247.6 389.44L248.1 389.49L248.6 389.53L249.1 389.57L249.6 389.62L250.1 389.66L250.6 389.69L251.1 389.73L251.6 389.76L252.1 389.80L252.6 389.83L253.1 389.86L253.6 389.89L254.1 389.92L254.6 389.95L255.1 389.98L255.6 390.01L256.1 390.04L256.6 390.06L257.1 390.09L257.6 390.12L258.1 390.14L258.6 390.17L259.1 390.19L259.6 390.22L260.1 390.24L260.6 390.26L261.1 390.29L261.6 390.31L262.1 390.33L262.6 390.35L263.1 390.37L263.6 390.39L264.1 390.42L264.6 390.44L265.1 390.46L265.6 390.48L266.1 390.50L266.6 390.52L267.1 390.54L267.6 390.56L268.1 390.58L268.6 390.60L269.1 390.62L269.6 390.64L270.1 390.66L270.6 390.68L271.1 390.70L271.6 390.72L272.1 390.73L272.6 390.75L273.1 390.77L273.6 390.78L274.1 390.80L274.6 390.81L275.1 390.83L275.6 390.84L276.1 390.86L276.6 390.87L277.1 390.89L277.6 390.91L278.1 390.92L278.6 390.94L279.1 390.96L279.6 390.98L280.1 391.00L280.6 391.03L281.1 391.05L281.6 391.08L282.1 391.11L282.6 391.14L283.1 391.17L283.6 391.20L284.1 391.24L284.6 391.27L285.1 391.31L285.6 391.34L286.1 391.38L286.6 391.42L287.1 391.46L287.6 391.50L288.1 391.54L288.6 391.58L289.1 391.62L289.6 391.66L290.1 391.70L290.6 391.75L291.1 391.79L291.6 391.83L292.1 391.87L292.6 391.92L293.1 391.97L293.6 392.02L294.1 392.08L294.6 392.15L295.1 392.22L295.6 392.29L296.1 392.36L296.6 392.42L297.1 392.49L297.6 392.55L298.1 392.61L298.6 392.66L299.1 392.71L299.6 392.75L300.1 392.78L300.6 392.79L301.1 392.80L301.6 392.80L302.1 392.79L302.6 392.78L303.1 392.76L303.6 392.74L304.1 392.72L304.6 392.68L305.1 392.65L305.6 392.61L306.1 392.56L306.6 392.51L307.1 392.40L307.6 392.15L308.1 391.78L308.6 391.31L309.1 390.79L309.6 390.23L310.1 389.62L310.6 388.78L311.1 387.80L311.6 386.74L312.1 385.65L312.6 384.54L313.1 383.31L313.6 382.03L314.1 380.80L314.6 379.68L315.1 378.71L315.6 377.83L316.1 377.00L316.6 376.20L317.1 375.41L317.6 374.59L318.1 373.75L318.6 372.92L319.1 372.09L319.6 371.25L320.1 370.39L320.6 369.49L321.1 368.55L321.6 367.59L322.1 366.60L322.6 365.57L323.1 364.48L323.6 363.32L324.1 362.07L324.6 360.71L325.1 359.22L325.6 357.62L326.1 355.90L326.6 354.07L327.1 352.02L327.6 349.78L328.1 347.42L328.6 344.99L329.1 342.39L329.6 339.71L330.1 337.05L330.6 334.47L331.1 331.95L331.6 329.45L332.1 326.83L332.6 324.04L333.1 321.12L333.6 318.09L334.1 314.83L334.6 311.62L335.1 309.29L335.6 307.72L336.1 306.39L336.6 305.22L337.1 304.21L337.6 303.37L338.1 302.71L338.6 302.22L339.1 301.77L339.6 301.37L340.1 301.05L340.6 300.85L341.1 300.80L341.6 300.86L342.1 300.99L342.6 301.19L343.1 301.44L343.6 301.73L344.1 302.05L344.6 302.40L345.1 302.86L345.6 303.52L346.1 304.35L346.6 305.32L347.1 306.40L347.6 307.56L348.1 308.77L348.6 310.01L349.1 311.25L349.6 312.60L350.1 314.09L350.6 315.70L351.1 317.38L351.6 319.19L352.1 321.29L352.6 323.44L353.1 325.67L353.6 328.07L354.1 330.80L354.6 333.71L355.1 336.22L355.6 338.52L356.1 340.74L356.6 342.93L357.1 345.06L357.6 347.14L358.1 349.15L358.6 351.09L359.1 352.97L359.6 354.84L360.1 356.68L360.6 358.45L361.1 360.14L361.6 361.73L362.1 363.18L362.6 364.49L363.1 365.74L363.6 366.94L364.1 368.07L364.6 369.15L365.1 370.17L365.6 371.12L366.1 372.00L366.6 372.82L367.1 373.58L367.6 374.30L368.1 374.98L368.6 375.63L369.1 376.24L369.6 376.83L370.1 377.40L370.6 377.94L371.1 378.47L371.6 378.99L372.1 379.50L372.6 380.00L373.1 380.49L373.6 380.95L374.1 381.40L374.6 381.83L375.1 382.71L375.6 383.09L376.1 383.47L376.6 383.85L377.1 384.23L377.6 384.61L378.1 385.00L378.6 385.39L379.1 385.79L379.6 386.21L380.1 386.59L380.6 386.78L381.1 387.03L381.6 387.31L382.1 387.61L382.6 387.90L383.1 388.22L383.6 388.66L384.1 389.07L384.6 389.44L385.1 389.77L385.6 390.06L386.1 390.31L386.6 390.53L387.1 390.73L387.6 390.93L388.1 391.12L388.6 391.27L389.1 391.39L389.6 391.47L390.1 391.50L390.6 391.40L391.1 391.11L391.6 390.68L392.1 390.15L392.6 389.54L393.1 388.90L393.6 388.26L394.1 387.66L394.6 387.01L395.1 386.31L395.6 385.56L396.1 384.77L396.6 383.94L397.1 383.08L397.6 382.20L398.1 381.31L398.6 380.42L399.1 379.52L399.6 378.52L400.1 377.41L400.6 376.24L401.1 375.05L401.6 373.91L402.1 372.86L402.6 371.94L403.1 371.22L403.6 370.72L404.1 370.27L404.6 369.85L405.1 369.45L405.6 369.10L406.1 368.80L406.6 368.56L407.1 368.39L407.6 368.31L408.1 368.32L408.6 368.42L409.1 368.59L409.6 368.81L410.1 369.04L410.6 369.26L411.1 369.46L411.6 369.60L412.1 369.70L412.6 369.81L413.1 369.91L413.6 370.01L414.1 370.10L414.6 370.19L415.1 370.27L415.6 370.34L416.1 370.40L416.6 370.45L417.1 370.48L417.6 370.50L418.1 370.50L418.6 370.49L419.1 370.47L419.6 370.44L420.1 370.40L420.6 370.36L421.1 370.32L421.6 370.28L422.1 370.25L422.6 370.22L423.1 370.21L423.6 370.20L424.1 370.22L424.6 370.29L425.1 370.39L425.6 370.52L426.1 370.69L426.6 370.87L427.1 371.08L427.6 371.30L428.1 371.53L428.6 371.77L429.1 372.01L429.6 372.25L430.1 372.54L430.6 372.88L431.1 373.25L431.6 373.65L432.1 374.08L432.6 374.52L433.1 374.98L433.6 375.44L434.1 375.90L434.6 376.35L435.1 376.79L435.6 377.20L436.1 377.60L436.6 377.99L437.1 378.37L437.6 378.75L438.1 379.13L438.6 379.52L439.1 379.90L439.6 380.29L440.1 380.69L440.6 381.09L441.1 381.51L441.6 381.94L442.1 382.38L442.6 382.87L443.1 383.40L443.6 383.95L444.1 384.52L444.6 385.08L445.1 385.62L445.6 386.14L446.1 386.61L446.6 387.02L447.1 387.36L447.6 387.68L448.1 387.99L448.6 388.29L449.1 388.57L449.6 388.84L450.1 389.10L450.6 389.35L451.1 389.57L451.6 389.78L452.1 389.98L452.6 390.18L453.1 390.40L453.6 390.63L454.1 390.84L454.6 391.06L455.1 391.29L455.6 391.51L456.1 391.73L456.6 391.94L457.1 392.13L457.6 392.31L458.1 392.47L458.6 392.61L459.1 392.72L459.6 392.82L460.1 392.91L460.6 392.99L461.1 393.07L461.6 393.15L462.1 393.22L462.6 393.28L463.1 393.35L463.6 393.41L464.1 393.46L464.6 393.52L465.1 393.57L465.6 393.62L466.1 393.67L466.6 393.72L467.1 393.76L467.6 393.81L468.1 393.86L468.6 393.90L469.1 393.95L469.6 394.00L470.1 394.05L470.6 394.10L471.1 394.14L471.6 394.18L472.1 394.23L472.6 394.26L473.1 394.30L473.6 394.33L474.1 394.35L474.6 394.37L475.1 394.39L475.6 394.40L476.1 394.40L476.6 394.38L477.1 394.34L477.6 394.27L478.1 394.19L478.6 394.10L479.1 393.99L479.6 393.88L480.1 393.76L480.6 393.65L481.1 393.52L481.6 393.35L482.1 393.14L482.6 392.90L483.1 392.65L483.6 392.39L484.1 392.14L484.6 391.92L485.1 391.73L485.6 391.59L486.1 391.51L486.6 391.50L487.1 391.50L487.6 391.50L488.1 391.50L488.6 391.50L489.1 391.50L489.6 391.50L490.1 391.50L490.6 391.50" fill="none" stroke="#000" stroke-width="1.2" stroke-dasharray="7.5 5" stroke-dashoffset="5.64"/>
<path d="M135.1 390.40L135.6 390.38L136.1 390.36L136.6 390.34L137.1 390.31L137.6 390.29L138.1 390.27L138.6 390.24L139.1 390.21L139.6 390.18L140.1 390.15L140.6 390.12L141.1 390.09L141.6 390.06L142.1 390.03L142.6 390.00L143.1 389.96L143.6 389.93L144.1 389.89L144.6 389.86L145.1 389.82L145.6 389.78L146.1 389.75L146.6 389.71L147.1 389.67L147.6 389.62L148.1 389.57L148.6 389.52L149.1 389.46L149.6 389.41L150.1 389.35L150.6 389.29L151.1 389.24L151.6 389.18L152.1 389.13L152.6 389.09L153.1 389.05L153.6 389.02L154.1 388.99L154.6 388.97L155.1 388.95L155.6 388.93L156.1 388.92L156.6 388.91L157.1 388.90L157.6 388.89L158.1 388.88L158.6 388.87L159.1 388.86L159.6 388.85L160.1 388.85L160.6 388.93L161.1 389.01L161.6 389.08L162.1 389.14L162.6 389.18L163.1 389.19L163.6 389.12L164.1 389.04L164.6 388.95L165.1 388.86L165.6 388.75L166.1 388.55L166.6 388.25L167.1 387.87L167.6 387.41L168.1 386.88L168.6 386.29L169.1 385.66L169.6 384.99L170.1 384.30L170.6 383.53L171.1 382.61L171.6 381.55L172.1 380.36L172.6 379.03L173.1 377.58L173.6 376.00L174.1 374.30L174.6 372.23L175.1 369.66L175.6 366.76L176.1 363.71L176.6 360.67L177.1 357.77L177.6 354.86L178.1 351.86L178.6 348.72L179.1 345.32L179.6 341.57L180.1 337.68L180.6 333.86L181.1 330.32L181.6 326.93L182.1 323.62L182.6 320.44L183.1 317.45L183.6 314.70L184.1 312.17L184.6 309.79L185.1 307.54L185.6 305.40L186.1 303.36L186.6 301.39L187.1 299.48L187.6 297.63L188.1 295.87L188.6 294.22L189.1 292.69L189.6 291.22L190.1 289.71L190.6 288.24L191.1 286.91L191.6 285.82L192.1 285.08L192.6 284.69L193.1 284.37L193.6 284.09L194.1 283.84L194.6 283.65L195.1 283.51L195.6 283.42L196.1 283.40L196.6 283.44L197.1 283.51L197.6 283.63L198.1 283.78L198.6 283.95L199.1 284.14L199.6 284.34L200.1 284.54L200.6 284.74L201.1 284.94L201.6 285.13L202.1 285.34L202.6 285.56L203.1 285.79L203.6 286.04L204.1 286.31L204.6 286.59L205.1 286.88L205.6 287.20L206.1 287.54L206.6 287.92L207.1 288.34L207.6 288.79L208.1 289.29L208.6 289.82L209.1 290.38L209.6 290.98L210.1 291.61L210.6 292.31L211.1 293.06L211.6 293.88L212.1 294.75L212.6 295.68L213.1 296.68L213.6 297.73L214.1 298.91L214.6 300.21L215.1 301.62L215.6 303.12L216.1 304.70L216.6 306.33L217.1 308.05L217.6 309.88L218.1 311.85L218.6 314.02L219.1 316.46L219.6 319.54L220.1 322.74L220.6 325.80L221.1 328.74L221.6 331.73L222.1 334.80L222.6 337.83L223.1 340.73L223.6 343.50L224.1 346.27L224.6 349.00L225.1 351.68L225.6 354.27L226.1 356.75L226.6 359.10L227.1 361.41L227.6 363.67L228.1 365.87L228.6 367.94L229.1 369.84L229.6 371.54L230.1 373.03L230.6 374.45L231.1 375.79L231.6 377.05L232.1 378.22L232.6 379.30L233.1 380.26L233.6 381.12L234.1 381.85L234.6 382.53L235.1 383.18L235.6 383.81L236.1 384.41L236.6 384.97L237.1 385.48L237.6 385.94L238.1 386.35L238.6 386.69L239.1 386.96L239.6 387.16L240.1 387.29L240.6 387.42L241.1 387.53L241.6 387.64L242.1 387.74L242.6 387.83L243.1 387.91L243.6 387.98L244.1 388.05L244.6 388.12L245.1 388.18L245.6 388.23L246.1 388.28L246.6 388.33L247.1 388.38L247.6 388.43L248.1 388.48L248.6 388.52L249.1 388.57L249.6 388.61L250.1 388.65L250.6 388.69L251.1 388.73L251.6 388.76L252.1 388.80L252.6 388.83L253.1 388.86L253.6 388.89L254.1 388.92L254.6 388.95L255.1 388.98L255.6 389.01L256.1 389.04L256.6 389.06L257.1 389.09L257.6 389.12L258.1 389.14L258.6 389.17L259.1 389.19L259.6 389.22L260.1 389.24L260.6 389.26L261.1 389.29L261.6 389.31L262.1 389.33L262.6 389.35L263.1 389.37L263.6 389.39L264.1 389.42L264.6 389.44L265.1 389.46L265.6 389.48L266.1 389.50L266.6 389.52L267.1 389.54L267.6 389.56L268.1 389.58L268.6 389.60L269.1 389.62L269.6 389.64L270.1 389.66L270.6 389.68L271.1 389.70L271.6 389.72L272.1 389.73L272.6 389.75L273.1 389.77L273.6 389.78L274.1 389.80L274.6 389.81L275.1 389.83L275.6 389.84L276.1 389.86L276.6 389.87L277.1 389.89L277.6 389.91L278.1 389.92L278.6 389.94L279.1 389.96L279.6 389.98L280.1 390.00L280.6 390.03L281.1 390.05L281.6 390.08L282.1 390.11L282.6 390.14L283.1 390.17L283.6 390.20L284.1 390.24L284.6 390.27L285.1 390.31L285.6 390.34L286.1 390.38L286.6 390.42L287.1 390.46L287.6 390.50L288.1 390.54L288.6 390.58L289.1 390.62L289.6 390.66L290.1 390.70L290.6 390.75L291.1 390.79L291.6 390.83L292.1 390.87L292.6 390.92L293.1 390.97L293.6 391.02L294.1 391.08L294.6 391.15L295.1 391.22L295.6 391.29L296.1 391.36L296.6 391.42L297.1 391.49L297.6 391.55L298.1 391.61L298.6 391.66L299.1 391.71L299.6 391.75L300.1 391.78L300.6 391.79L301.1 391.80L301.6 391.80L302.1 391.79L302.6 391.78L303.1 391.76L303.6 391.74L304.1 391.72L304.6 391.68L305.1 391.65L305.6 391.61L306.1 391.56L306.6 391.51L307.1 391.40L307.6 391.15L308.1 390.78L308.6 390.31L309.1 389.79L309.6 389.23L310.1 388.61L310.6 387.75L311.1 386.74L311.6 385.64L312.1 384.52L312.6 383.37L313.1 382.10L313.6 380.78L314.1 379.51L314.6 378.35L315.1 377.35L315.6 376.44L316.1 375.58L316.6 374.76L317.1 373.94L317.6 373.10L318.1 372.23L318.6 371.37L319.1 370.51L319.6 369.65L320.1 368.76L320.6 367.83L321.1 366.86L321.6 365.86L322.1 364.84L322.6 363.78L323.1 362.66L323.6 361.46L324.1 360.16L324.6 358.75L325.1 357.22L325.6 355.56L326.1 353.79L326.6 351.68L327.1 348.24L327.6 344.37L328.1 340.34L328.6 336.25L329.1 332.09L329.6 328.27L330.1 325.70L330.6 323.12L331.1 320.45L331.6 317.55L332.1 314.59L332.6 311.92L333.1 309.73L333.6 307.74L334.1 305.93L334.6 304.30L335.1 302.90L335.6 301.70L336.1 300.58L336.6 299.57L337.1 298.68L337.6 297.95L338.1 297.40L338.6 296.92L339.1 296.48L339.6 296.09L340.1 295.80L340.6 295.63L341.1 295.61L341.6 295.74L342.1 295.98L342.6 296.32L343.1 296.71L343.6 297.15L344.1 297.59L344.6 298.14L345.1 298.81L345.6 299.59L346.1 300.47L346.6 301.41L347.1 302.40L347.6 303.50L348.1 304.75L348.6 306.12L349.1 307.59L349.6 309.12L350.1 310.69L350.6 312.30L351.1 314.04L351.6 315.86L352.1 317.73L352.6 319.61L353.1 321.47L353.6 323.28L354.1 325.06L354.6 326.84L355.1 328.63L355.6 330.43L356.1 332.27L356.6 334.16L357.1 336.30L357.6 339.38L358.1 342.52L358.6 345.67L359.1 348.78L359.6 351.84L360.1 354.59L360.6 356.43L361.1 358.17L361.6 359.81L362.1 361.30L362.6 362.66L363.1 363.95L363.6 365.19L364.1 366.36L364.6 367.48L365.1 368.52L365.6 369.51L366.1 370.42L366.6 371.27L367.1 372.05L367.6 372.79L368.1 373.50L368.6 374.16L369.1 374.80L369.6 375.41L370.1 375.99L370.6 376.56L371.1 377.10L371.6 377.64L372.1 378.16L372.6 378.68L373.1 379.19L373.6 379.67L374.1 380.13L374.6 380.57L375.1 381.91L375.6 382.29L376.1 382.67L376.6 383.05L377.1 383.43L377.6 383.81L378.1 384.20L378.6 384.59L379.1 384.99L379.6 385.41L380.1 385.79L380.6 385.97L381.1 386.16L381.6 386.34L382.1 386.49L382.6 386.59L383.1 386.67L383.6 386.93L384.1 387.13L384.6 387.26L385.1 387.30L385.6 387.30L386.1 387.30L386.6 387.30L387.1 387.30L387.6 387.30L388.1 387.30L388.6 387.30L389.1 387.30L389.6 387.30L390.1 387.21L390.6 387.01L391.1 386.72L391.6 386.35L392.1 385.91L392.6 385.43L393.1 384.93L393.6 384.41L394.1 383.88L394.6 383.24L395.1 382.47L395.6 381.60L396.1 380.67L396.6 379.70L397.1 378.72L397.6 377.76L398.1 376.85L398.6 375.99L399.1 375.13L399.6 374.26L400.1 373.40L400.6 372.54L401.1 371.70L401.6 370.87L402.1 370.07L402.6 369.30L403.1 368.54L403.6 367.71L404.1 366.84L404.6 365.96L405.1 365.11L405.6 364.31L406.1 363.61L406.6 363.03L407.1 362.63L407.6 362.42L408.1 362.41L408.6 362.48L409.1 362.60L409.6 362.76L410.1 362.96L410.6 363.18L411.1 363.40L411.6 363.64L412.1 363.86L412.6 364.10L413.1 364.40L413.6 364.76L414.1 365.13L414.6 365.50L415.1 365.83L415.6 366.11L416.1 366.31L416.6 366.40L417.1 366.40L417.6 366.38L418.1 366.36L418.6 366.34L419.1 366.31L419.6 366.28L420.1 366.25L420.6 366.22L421.1 366.21L421.6 366.20L422.1 366.21L422.6 366.24L423.1 366.29L423.6 366.37L424.1 366.45L424.6 366.56L425.1 366.67L425.6 366.79L426.1 366.92L426.6 367.05L427.1 367.18L427.6 367.35L428.1 367.54L428.6 367.76L429.1 368.00L429.6 368.26L430.1 368.54L430.6 368.84L431.1 369.15L431.6 369.47L432.1 369.81L432.6 370.19L433.1 370.61L433.6 371.07L434.1 371.56L434.6 372.07L435.1 372.61L435.6 373.15L436.1 373.71L436.6 374.27L437.1 374.83L437.6 375.42L438.1 376.04L438.6 376.68L439.1 377.35L439.6 378.02L440.1 378.69L440.6 379.36L441.1 380.01L441.6 380.64L442.1 381.24L442.6 381.86L443.1 382.49L443.6 383.12L444.1 383.74L444.6 384.35L445.1 384.93L445.6 385.47L446.1 385.96L446.6 386.40L447.1 386.77L447.6 387.11L448.1 387.45L448.6 387.77L449.1 388.08L449.6 388.38L450.1 388.65L450.6 388.88L451.1 389.06L451.6 389.21L452.1 389.34L452.6 389.47L453.1 389.63L453.6 389.83L454.1 390.04L454.6 390.26L455.1 390.49L455.6 390.71L456.1 390.93L456.6 391.14L457.1 391.33L457.6 391.51L458.1 391.67L458.6 391.81L459.1 391.92L459.6 392.02L460.1 392.11L460.6 392.19L461.1 392.27L461.6 392.35L462.1 392.42L462.6 392.48L463.1 392.55L463.6 392.61L464.1 392.66L464.6 392.72L465.1 392.77L465.6 392.82L466.1 392.87L466.6 392.92L467.1 392.96L467.6 393.01L468.1 393.06L468.6 393.10L469.1 393.15L469.6 393.20L470.1 393.25L470.6 393.30L471.1 393.34L471.6 393.38L472.1 393.43L472.6 393.46L473.1 393.50L473.6 393.53L474.1 393.55L474.6 393.57L475.1 393.59L475.6 393.60L476.1 393.60L476.6 393.58L477.1 393.54L477.6 393.47L478.1 393.39L478.6 393.30L479.1 393.19L479.6 393.08L480.1 392.96L480.6 392.85L481.1 392.72L481.6 392.55L482.1 392.34L482.6 392.10L483.1 391.85L483.6 391.59L484.1 391.34L484.6 391.12L485.1 390.93L485.6 390.79L486.1 390.71L486.6 390.70L487.1 390.70L487.6 390.70L488.1 390.70L488.6 390.70L489.1 390.70L489.6 390.70L490.1 390.70L490.6 390.70" fill="none" stroke="#000" stroke-width="1.3" stroke-dasharray="1.3 3.0"/>
<text x="68.30" y="36.10" font-family='"Liberation Sans", sans-serif' font-size="10.60" text-anchor="end" font-weight="normal" stroke="#000" stroke-width="0.30" textLength="24.60" lengthAdjust="spacingAndGlyphs" >530</text>
<text x="68.30" y="88.57" font-family='"Liberation Sans", sans-serif' font-size="10.60" text-anchor="end" font-weight="normal" stroke="#000" stroke-width="0.30" textLength="24.60" lengthAdjust="spacingAndGlyphs" >520</text>
<text x="68.30" y="141.05" font-family='"Liberation Sans", sans-serif' font-size="10.60" text-anchor="end" font-weight="normal" stroke="#000" stroke-width="0.30" textLength="24.60" lengthAdjust="spacingAndGlyphs" >510</text>
<text x="68.30" y="193.52" font-family='"Liberation Sans", sans-serif' font-size="10.60" text-anchor="end" font-weight="normal" stroke="#000" stroke-width="0.30" textLength="24.60" lengthAdjust="spacingAndGlyphs" >500</text>
<text x="68.30" y="246.00" font-family='"Liberation Sans", sans-serif' font-size="10.60" text-anchor="end" font-weight="normal" stroke="#000" stroke-width="0.30" textLength="24.60" lengthAdjust="spacingAndGlyphs" >490</text>
<text x="572.80" y="42.00" font-family='"Liberation Sans", sans-serif' font-size="10.60" text-anchor="start" font-weight="normal" stroke="#000" stroke-width="0.30" textLength="20.80" lengthAdjust="spacingAndGlyphs" >0.2</text>
<text x="572.80" y="83.22" font-family='"Liberation Sans", sans-serif' font-size="10.60" text-anchor="start" font-weight="normal" stroke="#000" stroke-width="0.30" textLength="20.80" lengthAdjust="spacingAndGlyphs" >0.1</text>
<text x="573.20" y="124.24" font-family='"Liberation Sans", sans-serif' font-size="10.60" text-anchor="start" font-weight="normal" stroke="#000" stroke-width="0.30" textLength="8.00" lengthAdjust="spacingAndGlyphs" >0</text>
<rect x="574.1" y="161.06" width="8.2" height="1.25" fill="#111"/>
<text x="583.90" y="165.66" font-family='"Liberation Sans", sans-serif' font-size="10.60" text-anchor="start" font-weight="normal" stroke="#000" stroke-width="0.30" textLength="20.80" lengthAdjust="spacingAndGlyphs" >0.1</text>
<rect x="574.1" y="202.28" width="8.2" height="1.25" fill="#111"/>
<text x="583.90" y="206.88" font-family='"Liberation Sans", sans-serif' font-size="10.60" text-anchor="start" font-weight="normal" stroke="#000" stroke-width="0.30" textLength="20.80" lengthAdjust="spacingAndGlyphs" >0.2</text>
<rect x="574.1" y="243.50" width="8.2" height="1.25" fill="#111"/>
<text x="583.90" y="248.10" font-family='"Liberation Sans", sans-serif' font-size="10.60" text-anchor="start" font-weight="normal" stroke="#000" stroke-width="0.30" textLength="20.80" lengthAdjust="spacingAndGlyphs" >0.3</text>
<text x="511.30" y="40.90" font-family='"Liberation Sans", sans-serif' font-size="10.60" text-anchor="start" font-weight="normal" stroke="#000" stroke-width="0.30" textLength="21.80" lengthAdjust="spacingAndGlyphs" >0.2</text>
<text x="511.60" y="213.90" font-family='"Liberation Sans", sans-serif' font-size="10.60" text-anchor="start" font-weight="normal" stroke="#000" stroke-width="0.30" textLength="20.60" lengthAdjust="spacingAndGlyphs" >0.0</text>
<text x="62.80" y="299.40" font-family='"Liberation Sans", sans-serif' font-size="12.80" text-anchor="end" font-weight="normal" stroke="#000" stroke-width="0.30" textLength="22.20" lengthAdjust="spacingAndGlyphs" >2.5</text>
<text x="67.00" y="332.60" font-family='"Liberation Sans", sans-serif' font-size="12.80" text-anchor="end" font-weight="normal" stroke="#000" stroke-width="0.30" textLength="8.40" lengthAdjust="spacingAndGlyphs" >2</text>
<text x="63.10" y="365.70" font-family='"Liberation Sans", sans-serif' font-size="12.80" text-anchor="end" font-weight="normal" stroke="#000" stroke-width="0.30" textLength="22.20" lengthAdjust="spacingAndGlyphs" >1.5</text>
<text x="66.60" y="398.60" font-family='"Liberation Sans", sans-serif' font-size="12.80" text-anchor="end" font-weight="normal" stroke="#000" stroke-width="0.30" >1</text>
<text x="87.10" y="438.50" font-family='"Liberation Sans", sans-serif' font-size="12.80" text-anchor="middle" font-weight="normal" stroke="#000" stroke-width="0.30" textLength="36.10" lengthAdjust="spacingAndGlyphs" >5600</text>
<text x="325.86" y="438.50" font-family='"Liberation Sans", sans-serif' font-size="12.80" text-anchor="middle" font-weight="normal" stroke="#000" stroke-width="0.30" textLength="36.10" lengthAdjust="spacingAndGlyphs" >5800</text>
<text x="564.62" y="438.50" font-family='"Liberation Sans", sans-serif' font-size="12.80" text-anchor="middle" font-weight="normal" stroke="#000" stroke-width="0.30" textLength="36.10" lengthAdjust="spacingAndGlyphs" >6000</text>
<text transform="translate(232.38 466.00) scale(1.110 1)" font-family='"Liberation Serif", serif' font-size="19.60" font-weight="normal">w</text><text transform="translate(248.72 466.00) scale(1.300 1)" font-family='"Liberation Serif", serif' font-size="19.60" font-weight="normal">a</text><text transform="translate(261.80 466.00) scale(1.296 1)" font-family='"Liberation Serif", serif' font-size="19.60" font-weight="normal">v</text><text transform="translate(275.94 466.00) scale(1.300 1)" font-family='"Liberation Serif", serif' font-size="19.60" font-weight="normal">e</text><text transform="translate(288.55 466.00) scale(1.137 1)" font-family='"Liberation Serif", serif' font-size="19.60" font-weight="normal">l</text><text transform="translate(297.55 466.00) scale(1.241 1)" font-family='"Liberation Serif", serif' font-size="19.60" font-weight="normal">e</text><text transform="translate(308.93 466.00) scale(1.300 1)" font-family='"Liberation Serif", serif' font-size="19.60" font-weight="normal">n</text><text transform="translate(324.58 466.00) scale(1.300 1)" font-family='"Liberation Serif", serif' font-size="19.60" font-weight="normal">g</text><text transform="translate(340.41 466.00) scale(1.300 1)" font-family='"Liberation Serif", serif' font-size="19.60" font-weight="normal">t</text><text transform="translate(349.97 466.00) scale(1.300 1)" font-family='"Liberation Serif", serif' font-size="19.60" font-weight="normal">h</text><text transform="translate(376.11 466.00) scale(1.300 1)" font-family='"Liberation Serif", serif' font-size="19.60" font-weight="normal">(</text><text transform="translate(386.01 466.00) scale(0.977 1)" font-family='"Liberation Serif", serif' font-size="19.60" font-weight="normal">Å</text><text transform="translate(400.30 466.00) scale(1.271 1)" font-family='"Liberation Serif", serif' font-size="19.60" font-weight="normal">)</text>
<text transform="translate(386.66 317.00) scale(0.878 1)" font-family='"Liberation Serif", serif' font-size="11.50" font-weight="bold">W</text><text transform="translate(396.80 317.00) scale(0.999 1)" font-family='"Liberation Serif", serif' font-size="11.50" font-weight="bold">R</text><text transform="translate(412.99 317.00) scale(1.296 1)" font-family='"Liberation Serif", serif' font-size="11.50" font-weight="bold">f</text><text transform="translate(418.45 317.00) scale(0.850 1)" font-family='"Liberation Serif", serif' font-size="11.50" font-weight="bold">r</text><text transform="translate(423.43 317.00) scale(1.300 1)" font-family='"Liberation Serif", serif' font-size="11.50" font-weight="bold">a</text><text transform="translate(432.50 317.00) scale(1.300 1)" font-family='"Liberation Serif", serif' font-size="11.50" font-weight="bold">m</text><text transform="translate(447.42 317.00) scale(1.300 1)" font-family='"Liberation Serif", serif' font-size="11.50" font-weight="bold">e</text>
<g transform="translate(31.0 400) rotate(-90)"><text transform="translate(191.31 0.00) scale(0.681 1)" font-family='"Liberation Serif", serif' font-size="25.00" font-weight="normal">H</text><text transform="translate(204.46 0.00) scale(0.657 1)" font-family='"Liberation Serif", serif' font-size="25.00" font-weight="normal">J</text><text transform="translate(213.54 0.00) scale(0.637 1)" font-family='"Liberation Serif", serif' font-size="25.00" font-weight="normal">D</text><text transform="translate(236.12 0.00) scale(0.946 1)" font-family='"Liberation Serif", serif' font-size="25.00" font-weight="normal">−</text><text transform="translate(260.35 0.00) scale(0.868 1)" font-family='"Liberation Serif", serif' font-size="25.00" font-weight="normal">2</text><text transform="translate(271.61 0.00) scale(0.792 1)" font-family='"Liberation Serif", serif' font-size="25.00" font-weight="normal">4</text><text transform="translate(282.83 0.00) scale(0.874 1)" font-family='"Liberation Serif", serif' font-size="25.00" font-weight="normal">5</text><text transform="translate(295.76 0.00) scale(0.774 1)" font-family='"Liberation Serif", serif' font-size="25.00" font-weight="normal">0</text><text transform="translate(307.55 0.00) scale(0.783 1)" font-family='"Liberation Serif", serif' font-size="25.00" font-weight="normal">0</text><text transform="translate(319.45 0.00) scale(0.783 1)" font-family='"Liberation Serif", serif' font-size="25.00" font-weight="normal">0</text><text transform="translate(331.35 0.00) scale(0.783 1)" font-family='"Liberation Serif", serif' font-size="25.00" font-weight="normal">0</text></g>
<g transform="translate(22.6 400) rotate(-90)"><text transform="translate(13.05 0.00) scale(0.897 1)" font-family='"Liberation Serif", serif' font-size="23.00" font-weight="normal">I</text><text transform="translate(20.79 0.00) scale(0.960 1)" font-family='"Liberation Serif", serif' font-size="23.00" font-weight="normal">n</text><text transform="translate(33.46 0.00) scale(1.061 1)" font-family='"Liberation Serif", serif' font-size="23.00" font-weight="normal">t</text><text transform="translate(41.39 0.00) scale(1.010 1)" font-family='"Liberation Serif", serif' font-size="23.00" font-weight="normal">e</text><text transform="translate(53.00 0.00) scale(0.951 1)" font-family='"Liberation Serif", serif' font-size="23.00" font-weight="normal">n</text><text transform="translate(65.31 0.00) scale(1.045 1)" font-family='"Liberation Serif", serif' font-size="23.00" font-weight="normal">s</text><text transform="translate(75.02 0.00) scale(0.786 1)" font-family='"Liberation Serif", serif' font-size="23.00" font-weight="normal">i</text><text transform="translate(80.59 0.00) scale(1.300 1)" font-family='"Liberation Serif", serif' font-size="23.00" font-weight="normal">t</text><text transform="translate(90.74 0.00) scale(0.916 1)" font-family='"Liberation Serif", serif' font-size="23.00" font-weight="normal">y</text></g>
<g transform="translate(629.8,137.6) rotate(-90)"><text x="0.00" y="0.00" font-family='"Liberation Serif", serif' font-size="14.00" text-anchor="start" font-weight="normal" textLength="34.00" lengthAdjust="spacingAndGlyphs" >Phase</text></g>
<line x1="510.30" y1="44.30" x2="529.70" y2="44.30" stroke="#999" stroke-width="1.00"/>
</svg>
</body></html>
